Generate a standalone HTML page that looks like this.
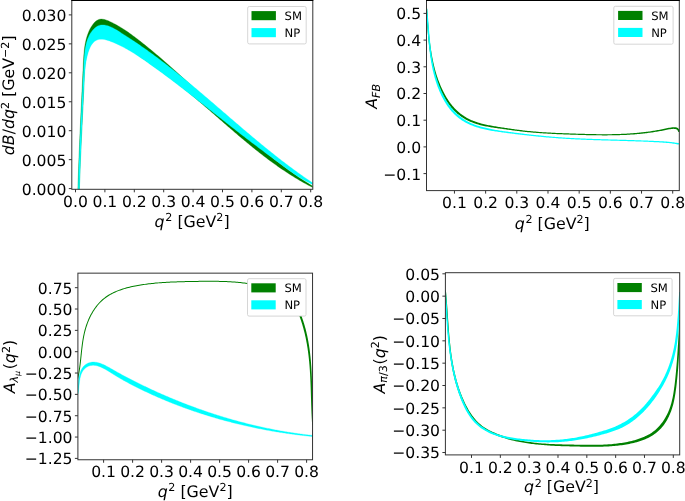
<!DOCTYPE html>
<html><head><meta charset="utf-8"><title>plots</title>
<style>html,body{margin:0;padding:0;background:#fff}svg{display:block;will-change:transform}</style></head>
<body>
<svg width="685" height="501" viewBox="0 0 685 501" font-family='"DejaVu Sans","Liberation Sans",sans-serif' fill="#000" text-rendering="geometricPrecision">
<rect width="685" height="501" fill="#fff"/>
<defs>
<clipPath id="c1"><rect x="71.80" y="0.50" width="241.00" height="188.80"/></clipPath>
<clipPath id="c2"><rect x="426.50" y="0.50" width="252.80" height="190.10"/></clipPath>
<clipPath id="c3"><rect x="77.90" y="273.15" width="234.65" height="186.60"/></clipPath>
<clipPath id="c4"><rect x="445.40" y="272.70" width="234.30" height="182.20"/></clipPath>
</defs>
<path d="M77.88 189.61 L77.94 187.68 L78.00 185.76 L78.06 183.84 L78.12 181.93 L78.19 180.02 L78.25 178.11 L78.31 176.21 L78.38 174.31 L78.44 172.41 L78.51 170.52 L78.58 168.63 L78.65 166.75 L78.72 164.87 L78.79 162.99 L78.86 161.11 L78.93 159.23 L79.00 157.36 L79.08 155.49 L79.15 153.62 L79.23 151.76 L79.30 149.90 L79.38 148.03 L79.46 146.17 L79.54 144.31 L79.61 142.46 L79.69 140.60 L79.77 138.74 L79.85 136.89 L79.93 135.04 L80.02 133.18 L80.10 131.33 L80.18 129.48 L80.26 127.63 L80.35 125.77 L80.43 123.92 L80.52 122.07 L80.60 120.22 L80.69 118.37 L80.77 116.51 L80.86 114.66 L80.95 112.80 L81.03 110.95 L81.12 109.09 L81.21 107.23 L81.30 105.37 L81.39 103.51 L81.48 101.65 L81.57 99.79 L81.66 97.92 L81.75 96.05 L81.84 94.18 L81.93 92.31 L82.02 90.43 L82.11 88.56 L82.20 86.68 L82.30 84.79 L82.39 82.91 L82.48 81.02 L82.57 79.13 L82.66 77.23 L82.76 75.33 L82.85 73.43 L82.94 71.52 L83.04 69.61 L83.13 67.69 L83.22 65.77 L83.31 63.85 L83.41 61.92 L83.51 60.00 L83.63 58.07 L83.75 56.14 L83.90 54.22 L84.07 52.31 L84.26 50.40 L84.48 48.51 L84.74 46.62 L85.04 44.75 L85.38 42.90 L85.77 41.06 L86.20 39.24 L86.69 37.45 L87.24 35.67 L87.85 33.93 L88.53 32.21 L89.27 30.51 L90.10 28.85 L91.00 27.23 L91.98 25.65 L93.04 24.15 L94.19 22.78 L95.43 21.56 L96.75 20.55 L98.17 19.78 L99.68 19.28 L101.28 19.10 L102.97 19.21 L104.72 19.58 L106.51 20.14 L108.31 20.85 L110.12 21.66 L111.90 22.51 L113.65 23.39 L115.37 24.30 L117.07 25.23 L118.74 26.19 L120.39 27.17 L122.02 28.17 L123.63 29.19 L125.22 30.23 L126.79 31.29 L128.34 32.36 L129.88 33.45 L131.41 34.55 L132.92 35.67 L134.43 36.79 L135.92 37.92 L137.41 39.07 L138.89 40.22 L140.37 41.37 L141.84 42.53 L143.31 43.69 L144.78 44.86 L146.24 46.04 L147.70 47.22 L149.15 48.40 L150.60 49.59 L152.05 50.79 L153.49 51.98 L154.93 53.19 L156.37 54.39 L157.80 55.60 L159.23 56.82 L160.66 58.03 L162.08 59.25 L163.50 60.48 L164.92 61.71 L166.33 62.94 L167.74 64.17 L169.15 65.41 L170.56 66.65 L171.97 67.90 L173.37 69.15 L174.77 70.39 L176.17 71.65 L177.56 72.90 L178.96 74.16 L180.35 75.42 L181.74 76.68 L183.13 77.94 L184.52 79.21 L185.90 80.48 L187.29 81.74 L188.67 83.01 L190.06 84.29 L191.44 85.56 L192.82 86.83 L194.19 88.11 L195.57 89.39 L196.95 90.66 L198.33 91.94 L199.70 93.22 L201.08 94.50 L202.45 95.78 L203.83 97.06 L205.20 98.34 L206.58 99.62 L207.95 100.91 L209.33 102.19 L210.70 103.47 L212.08 104.75 L213.45 106.03 L214.83 107.31 L216.20 108.59 L217.58 109.87 L218.95 111.14 L220.33 112.42 L221.71 113.69 L223.09 114.97 L224.47 116.24 L225.85 117.51 L227.24 118.78 L228.62 120.05 L230.00 121.32 L231.39 122.58 L232.78 123.85 L234.17 125.11 L235.56 126.37 L236.96 127.62 L238.35 128.88 L239.75 130.13 L241.15 131.38 L242.55 132.62 L243.95 133.87 L245.36 135.11 L246.77 136.34 L248.18 137.58 L249.59 138.81 L251.01 140.04 L252.43 141.26 L253.85 142.48 L255.28 143.70 L256.70 144.91 L258.14 146.12 L259.57 147.33 L261.01 148.53 L262.45 149.72 L263.89 150.92 L265.34 152.10 L266.79 153.29 L268.25 154.47 L269.71 155.64 L271.17 156.81 L272.64 157.97 L274.11 159.13 L275.59 160.28 L277.07 161.43 L278.55 162.57 L280.04 163.71 L281.53 164.84 L283.03 165.97 L284.54 167.09 L286.04 168.20 L287.56 169.31 L289.07 170.41 L290.60 171.50 L292.12 172.59 L293.66 173.67 L295.20 174.75 L296.74 175.82 L298.29 176.88 L299.85 177.93 L301.41 178.98 L302.97 180.02 L304.55 181.05 L306.12 182.07 L307.71 183.09 L309.30 184.10 L310.90 185.10 L312.50 186.10 L312.55 187.40 L310.97 186.59 L309.40 185.77 L307.84 184.94 L306.28 184.11 L304.73 183.26 L303.19 182.40 L301.65 181.53 L300.12 180.65 L298.59 179.76 L297.08 178.86 L295.56 177.95 L294.06 177.04 L292.56 176.11 L291.07 175.17 L289.58 174.23 L288.10 173.28 L286.62 172.32 L285.15 171.35 L283.69 170.37 L282.23 169.39 L280.77 168.39 L279.32 167.39 L277.88 166.39 L276.44 165.37 L275.00 164.35 L273.57 163.32 L272.15 162.29 L270.73 161.25 L269.31 160.20 L267.90 159.14 L266.49 158.08 L265.08 157.02 L263.68 155.95 L262.28 154.87 L260.89 153.79 L259.50 152.70 L258.11 151.61 L256.73 150.51 L255.35 149.41 L253.97 148.30 L252.60 147.19 L251.23 146.07 L249.86 144.95 L248.49 143.83 L247.13 142.70 L245.77 141.57 L244.41 140.44 L243.05 139.30 L241.70 138.17 L240.34 137.02 L238.99 135.88 L237.64 134.73 L236.30 133.58 L234.95 132.43 L233.60 131.28 L232.26 130.12 L230.92 128.96 L229.58 127.80 L228.24 126.64 L226.90 125.48 L225.56 124.32 L224.22 123.16 L222.88 121.99 L221.55 120.83 L220.21 119.67 L218.87 118.50 L217.54 117.34 L216.20 116.17 L214.86 115.01 L213.52 113.85 L212.19 112.69 L210.85 111.52 L209.51 110.36 L208.17 109.20 L206.83 108.05 L205.49 106.89 L204.15 105.74 L202.80 104.58 L201.46 103.43 L200.11 102.29 L198.76 101.14 L197.41 100.00 L196.06 98.86 L194.71 97.72 L193.36 96.59 L192.00 95.45 L190.64 94.33 L189.28 93.20 L187.91 92.08 L186.55 90.97 L185.18 89.85 L183.81 88.75 L182.43 87.64 L181.06 86.54 L179.67 85.45 L178.29 84.36 L176.90 83.28 L175.51 82.20 L174.12 81.13 L172.72 80.06 L171.32 79.00 L169.92 77.94 L168.51 76.88 L167.10 75.84 L165.68 74.79 L164.27 73.75 L162.85 72.71 L161.42 71.68 L160.00 70.65 L158.57 69.62 L157.14 68.59 L155.71 67.57 L154.27 66.54 L152.83 65.52 L151.39 64.50 L149.95 63.48 L148.50 62.46 L147.06 61.44 L145.61 60.42 L144.16 59.40 L142.70 58.38 L141.25 57.36 L139.79 56.34 L138.34 55.31 L136.88 54.29 L135.42 53.26 L133.96 52.23 L132.50 51.20 L131.03 50.16 L129.57 49.12 L128.10 48.08 L126.64 47.03 L125.17 45.98 L123.70 44.93 L122.21 43.89 L120.72 42.87 L119.21 41.88 L117.67 40.92 L116.10 39.99 L114.51 39.12 L112.87 38.30 L111.20 37.55 L109.48 36.87 L107.73 36.28 L105.97 35.82 L104.24 35.52 L102.55 35.41 L100.92 35.51 L99.38 35.86 L97.94 36.45 L96.59 37.26 L95.33 38.26 L94.16 39.42 L93.08 40.72 L92.07 42.14 L91.15 43.65 L90.31 45.21 L89.54 46.81 L88.84 48.44 L88.21 50.09 L87.65 51.75 L87.14 53.43 L86.69 55.13 L86.29 56.85 L85.94 58.58 L85.64 60.32 L85.37 62.08 L85.15 63.84 L84.95 65.62 L84.79 67.40 L84.65 69.19 L84.53 70.98 L84.43 72.77 L84.34 74.57 L84.27 76.37 L84.19 78.17 L84.13 79.97 L84.06 81.77 L83.99 83.56 L83.91 85.35 L83.84 87.14 L83.77 88.92 L83.69 90.70 L83.61 92.48 L83.54 94.26 L83.46 96.03 L83.38 97.81 L83.29 99.58 L83.21 101.35 L83.13 103.12 L83.05 104.88 L82.96 106.65 L82.88 108.41 L82.79 110.17 L82.70 111.93 L82.62 113.69 L82.53 115.45 L82.44 117.21 L82.36 118.96 L82.27 120.72 L82.18 122.47 L82.09 124.23 L82.00 125.98 L81.92 127.73 L81.83 129.48 L81.74 131.24 L81.65 132.99 L81.57 134.74 L81.48 136.49 L81.39 138.25 L81.31 140.00 L81.22 141.75 L81.14 143.50 L81.05 145.26 L80.97 147.01 L80.89 148.77 L80.81 150.52 L80.73 152.28 L80.65 154.04 L80.57 155.80 L80.49 157.56 L80.42 159.32 L80.34 161.08 L80.27 162.85 L80.20 164.61 L80.13 166.38 L80.06 168.15 L79.99 169.92 L79.92 171.69 L79.86 173.47 L79.80 175.24 L79.74 177.02 L79.68 178.81 L79.62 180.59 L79.57 182.38 L79.51 184.17 L79.46 185.96 L79.41 187.75 L79.37 189.55Z" fill="#008000" stroke="#008000" stroke-width="0.3" clip-path="url(#c1)"/>
<path d="M78.09 189.62 L78.14 187.74 L78.20 185.85 L78.25 183.98 L78.31 182.10 L78.37 180.24 L78.43 178.37 L78.49 176.51 L78.55 174.66 L78.61 172.81 L78.68 170.96 L78.74 169.12 L78.81 167.28 L78.87 165.44 L78.94 163.61 L79.01 161.78 L79.08 159.96 L79.15 158.13 L79.23 156.31 L79.30 154.49 L79.37 152.68 L79.45 150.86 L79.53 149.05 L79.60 147.24 L79.68 145.43 L79.76 143.62 L79.84 141.82 L79.92 140.01 L80.00 138.21 L80.08 136.41 L80.17 134.61 L80.25 132.81 L80.33 131.01 L80.42 129.21 L80.51 127.41 L80.59 125.61 L80.68 123.81 L80.77 122.01 L80.86 120.20 L80.95 118.40 L81.04 116.60 L81.13 114.80 L81.22 112.99 L81.31 111.19 L81.40 109.38 L81.50 107.57 L81.59 105.76 L81.68 103.95 L81.78 102.13 L81.87 100.32 L81.97 98.50 L82.06 96.68 L82.16 94.85 L82.26 93.03 L82.35 91.20 L82.45 89.36 L82.55 87.53 L82.65 85.69 L82.75 83.84 L82.85 82.00 L82.95 80.14 L83.05 78.29 L83.15 76.43 L83.25 74.57 L83.35 72.70 L83.45 70.82 L83.55 68.95 L83.65 67.06 L83.75 65.18 L83.85 63.28 L83.96 61.39 L84.07 59.49 L84.20 57.60 L84.36 55.72 L84.53 53.84 L84.74 51.98 L84.98 50.14 L85.26 48.31 L85.58 46.51 L85.96 44.74 L86.39 42.99 L86.88 41.28 L87.44 39.61 L88.07 37.97 L88.77 36.38 L89.55 34.83 L90.42 33.33 L91.39 31.89 L92.44 30.50 L93.60 29.18 L94.86 27.97 L96.21 26.90 L97.67 26.03 L99.22 25.38 L100.88 25.01 L102.62 24.91 L104.41 25.05 L106.19 25.38 L107.94 25.86 L109.67 26.47 L111.37 27.20 L113.05 28.02 L114.71 28.92 L116.35 29.87 L117.98 30.86 L119.59 31.87 L121.19 32.88 L122.78 33.90 L124.36 34.91 L125.94 35.92 L127.50 36.94 L129.06 37.95 L130.60 38.97 L132.14 39.99 L133.67 41.01 L135.20 42.03 L136.72 43.06 L138.23 44.09 L139.74 45.12 L141.24 46.16 L142.73 47.20 L144.23 48.24 L145.71 49.29 L147.20 50.34 L148.67 51.40 L150.15 52.47 L151.62 53.53 L153.09 54.61 L154.56 55.69 L156.02 56.77 L157.48 57.86 L158.94 58.95 L160.39 60.05 L161.84 61.15 L163.29 62.25 L164.73 63.36 L166.18 64.48 L167.62 65.59 L169.05 66.71 L170.49 67.84 L171.92 68.97 L173.35 70.10 L174.78 71.24 L176.20 72.37 L177.62 73.52 L179.05 74.66 L180.46 75.81 L181.88 76.96 L183.30 78.12 L184.71 79.27 L186.12 80.43 L187.53 81.60 L188.94 82.76 L190.34 83.93 L191.75 85.10 L193.15 86.27 L194.55 87.45 L195.95 88.62 L197.35 89.80 L198.75 90.98 L200.15 92.16 L201.54 93.35 L202.94 94.53 L204.33 95.72 L205.73 96.90 L207.12 98.09 L208.51 99.28 L209.90 100.47 L211.29 101.67 L212.68 102.86 L214.07 104.05 L215.46 105.25 L216.85 106.44 L218.24 107.64 L219.62 108.83 L221.01 110.03 L222.40 111.23 L223.79 112.42 L225.18 113.62 L226.56 114.82 L227.95 116.01 L229.34 117.21 L230.73 118.40 L232.12 119.60 L233.51 120.79 L234.90 121.99 L236.29 123.18 L237.68 124.37 L239.07 125.57 L240.46 126.76 L241.86 127.94 L243.25 129.13 L244.65 130.32 L246.04 131.50 L247.44 132.69 L248.84 133.87 L250.24 135.05 L251.64 136.23 L253.05 137.40 L254.45 138.58 L255.85 139.75 L257.26 140.92 L258.67 142.09 L260.08 143.26 L261.49 144.42 L262.91 145.58 L264.32 146.74 L265.74 147.89 L267.16 149.04 L268.58 150.19 L270.01 151.34 L271.43 152.48 L272.86 153.62 L274.29 154.76 L275.73 155.89 L277.16 157.02 L278.60 158.14 L280.04 159.27 L281.49 160.38 L282.93 161.50 L284.38 162.61 L285.84 163.71 L287.29 164.82 L288.75 165.91 L290.21 167.01 L291.68 168.09 L293.14 169.18 L294.61 170.26 L296.09 171.33 L297.57 172.40 L299.05 173.46 L300.53 174.52 L302.02 175.58 L303.51 176.63 L305.01 177.67 L306.51 178.71 L308.01 179.74 L309.52 180.77 L311.03 181.79 L312.55 182.80 L312.87 184.62 L311.27 183.88 L309.68 183.11 L308.11 182.32 L306.56 181.50 L305.03 180.66 L303.52 179.80 L302.01 178.92 L300.53 178.01 L299.05 177.09 L297.59 176.16 L296.14 175.20 L294.70 174.24 L293.26 173.26 L291.84 172.26 L290.42 171.26 L289.01 170.25 L287.60 169.24 L286.20 168.21 L284.79 167.18 L283.40 166.15 L282.00 165.12 L280.60 164.08 L279.20 163.05 L277.80 162.01 L276.40 160.97 L275.00 159.93 L273.60 158.89 L272.21 157.85 L270.81 156.81 L269.41 155.77 L268.01 154.73 L266.61 153.68 L265.22 152.64 L263.82 151.59 L262.42 150.55 L261.03 149.50 L259.63 148.45 L258.24 147.40 L256.85 146.35 L255.46 145.29 L254.07 144.24 L252.68 143.19 L251.29 142.13 L249.90 141.07 L248.51 140.01 L247.13 138.95 L245.74 137.89 L244.36 136.83 L242.98 135.77 L241.60 134.70 L240.22 133.63 L238.85 132.57 L237.47 131.50 L236.10 130.43 L234.72 129.36 L233.35 128.29 L231.98 127.21 L230.61 126.14 L229.24 125.07 L227.87 123.99 L226.51 122.92 L225.14 121.84 L223.77 120.77 L222.41 119.69 L221.04 118.61 L219.68 117.54 L218.31 116.46 L216.95 115.38 L215.58 114.30 L214.22 113.23 L212.85 112.15 L211.49 111.07 L210.13 109.99 L208.76 108.92 L207.40 107.84 L206.03 106.76 L204.67 105.69 L203.30 104.61 L201.94 103.53 L200.57 102.46 L199.21 101.39 L197.84 100.31 L196.47 99.24 L195.11 98.17 L193.74 97.10 L192.37 96.03 L191.00 94.96 L189.62 93.89 L188.25 92.82 L186.88 91.75 L185.50 90.69 L184.13 89.63 L182.75 88.56 L181.37 87.50 L179.99 86.44 L178.61 85.39 L177.23 84.33 L175.85 83.28 L174.46 82.22 L173.07 81.17 L171.68 80.12 L170.29 79.08 L168.90 78.03 L167.51 76.99 L166.11 75.95 L164.71 74.91 L163.31 73.87 L161.91 72.83 L160.50 71.80 L159.09 70.77 L157.68 69.74 L156.27 68.72 L154.86 67.70 L153.44 66.68 L152.02 65.66 L150.60 64.65 L149.17 63.63 L147.74 62.62 L146.31 61.62 L144.88 60.62 L143.44 59.62 L142.00 58.63 L140.55 57.65 L139.10 56.67 L137.64 55.70 L136.17 54.75 L134.69 53.80 L133.21 52.87 L131.72 51.95 L130.22 51.04 L128.71 50.15 L127.19 49.28 L125.66 48.42 L124.11 47.59 L122.56 46.77 L120.99 45.97 L119.41 45.19 L117.81 44.44 L116.20 43.70 L114.58 43.00 L112.93 42.32 L111.28 41.66 L109.60 41.03 L107.92 40.46 L106.25 39.95 L104.58 39.56 L102.95 39.29 L101.35 39.19 L99.81 39.27 L98.33 39.56 L96.93 40.05 L95.60 40.73 L94.37 41.61 L93.23 42.67 L92.20 43.91 L91.27 45.30 L90.44 46.81 L89.68 48.43 L89.01 50.12 L88.40 51.86 L87.85 53.62 L87.37 55.39 L86.93 57.15 L86.54 58.91 L86.20 60.67 L85.89 62.43 L85.63 64.19 L85.39 65.95 L85.19 67.70 L85.02 69.46 L84.86 71.21 L84.73 72.96 L84.61 74.71 L84.50 76.46 L84.40 78.21 L84.31 79.96 L84.22 81.71 L84.12 83.46 L84.03 85.20 L83.94 86.94 L83.85 88.69 L83.76 90.43 L83.67 92.17 L83.58 93.91 L83.49 95.65 L83.41 97.39 L83.32 99.13 L83.23 100.87 L83.15 102.60 L83.06 104.34 L82.98 106.07 L82.89 107.81 L82.81 109.54 L82.73 111.28 L82.65 113.01 L82.56 114.74 L82.48 116.48 L82.40 118.21 L82.32 119.94 L82.24 121.68 L82.16 123.41 L82.08 125.14 L82.00 126.87 L81.92 128.61 L81.85 130.34 L81.77 132.07 L81.69 133.80 L81.62 135.53 L81.54 137.27 L81.47 139.00 L81.39 140.73 L81.32 142.47 L81.24 144.20 L81.17 145.93 L81.09 147.67 L81.02 149.40 L80.95 151.14 L80.88 152.88 L80.80 154.61 L80.73 156.35 L80.66 158.09 L80.59 159.83 L80.52 161.57 L80.45 163.31 L80.38 165.05 L80.31 166.79 L80.24 168.53 L80.17 170.28 L80.11 172.02 L80.04 173.77 L79.97 175.51 L79.90 177.26 L79.83 179.01 L79.77 180.76 L79.70 182.51 L79.63 184.26 L79.57 186.02 L79.50 187.77 L79.44 189.53Z" fill="#00ffff" stroke="#00ffff" stroke-width="0.3" clip-path="url(#c1)"/>
<rect x="71.80" y="0.50" width="241.00" height="188.80" fill="none" stroke="#333333" stroke-width="1.00"/>
<line x1="75.50" y1="189.30" x2="75.50" y2="192.30" stroke="#333333" stroke-width="1.00"/>
<text x="75.50" y="206.90" text-anchor="middle" font-size="15.6">0.0</text>
<line x1="104.90" y1="189.30" x2="104.90" y2="192.30" stroke="#333333" stroke-width="1.00"/>
<text x="104.90" y="206.90" text-anchor="middle" font-size="15.6">0.1</text>
<line x1="134.30" y1="189.30" x2="134.30" y2="192.30" stroke="#333333" stroke-width="1.00"/>
<text x="134.30" y="206.90" text-anchor="middle" font-size="15.6">0.2</text>
<line x1="163.70" y1="189.30" x2="163.70" y2="192.30" stroke="#333333" stroke-width="1.00"/>
<text x="163.70" y="206.90" text-anchor="middle" font-size="15.6">0.3</text>
<line x1="193.10" y1="189.30" x2="193.10" y2="192.30" stroke="#333333" stroke-width="1.00"/>
<text x="193.10" y="206.90" text-anchor="middle" font-size="15.6">0.4</text>
<line x1="222.50" y1="189.30" x2="222.50" y2="192.30" stroke="#333333" stroke-width="1.00"/>
<text x="222.50" y="206.90" text-anchor="middle" font-size="15.6">0.5</text>
<line x1="251.90" y1="189.30" x2="251.90" y2="192.30" stroke="#333333" stroke-width="1.00"/>
<text x="251.90" y="206.90" text-anchor="middle" font-size="15.6">0.6</text>
<line x1="281.30" y1="189.30" x2="281.30" y2="192.30" stroke="#333333" stroke-width="1.00"/>
<text x="281.30" y="206.90" text-anchor="middle" font-size="15.6">0.7</text>
<line x1="310.70" y1="189.30" x2="310.70" y2="192.30" stroke="#333333" stroke-width="1.00"/>
<text x="310.70" y="206.90" text-anchor="middle" font-size="15.6">0.8</text>
<line x1="68.80" y1="188.60" x2="71.80" y2="188.60" stroke="#333333" stroke-width="1.00"/>
<text x="66.40" y="194.50" text-anchor="end" font-size="15.6">0.000</text>
<line x1="68.80" y1="159.65" x2="71.80" y2="159.65" stroke="#333333" stroke-width="1.00"/>
<text x="66.40" y="165.55" text-anchor="end" font-size="15.6">0.005</text>
<line x1="68.80" y1="130.70" x2="71.80" y2="130.70" stroke="#333333" stroke-width="1.00"/>
<text x="66.40" y="136.60" text-anchor="end" font-size="15.6">0.010</text>
<line x1="68.80" y1="101.75" x2="71.80" y2="101.75" stroke="#333333" stroke-width="1.00"/>
<text x="66.40" y="107.65" text-anchor="end" font-size="15.6">0.015</text>
<line x1="68.80" y1="72.80" x2="71.80" y2="72.80" stroke="#333333" stroke-width="1.00"/>
<text x="66.40" y="78.70" text-anchor="end" font-size="15.6">0.020</text>
<line x1="68.80" y1="43.85" x2="71.80" y2="43.85" stroke="#333333" stroke-width="1.00"/>
<text x="66.40" y="49.75" text-anchor="end" font-size="15.6">0.025</text>
<line x1="68.80" y1="14.90" x2="71.80" y2="14.90" stroke="#333333" stroke-width="1.00"/>
<text x="66.40" y="20.80" text-anchor="end" font-size="15.6">0.030</text>
<text x="192.10" y="227.00" text-anchor="middle" font-size="15.8"><tspan font-style="italic">q</tspan><tspan font-size="11.1" dy="-5.8" dx="0.7">2</tspan><tspan dy="5.8"> [GeV</tspan><tspan font-size="11.1" dy="-5.8">2</tspan><tspan dy="5.8">]</tspan></text>
<text transform="translate(14.4,95.3) rotate(-90)" text-anchor="middle" font-size="15.8"><tspan font-style="italic">dB</tspan>/<tspan font-style="italic">dq</tspan><tspan font-size="11.1" dy="-5.8">2</tspan><tspan dy="5.8"> [GeV</tspan><tspan font-size="11.1" dy="-5.8">−2</tspan><tspan dy="5.8">]</tspan></text>
<line x1="71.30" y1="0.5" x2="313.30" y2="0.5" stroke="#000" stroke-width="1"/>
<rect x="247.70" y="6.50" width="58.50" height="37.40" rx="1.6" fill="#fff" stroke="#cccccc" stroke-width="0.8"/>
<rect x="251.50" y="11.10" width="24.4" height="9.1" fill="#008000"/>
<rect x="251.50" y="28.10" width="24.4" height="9.1" fill="#00ffff"/>
<text x="284.60" y="20.10" font-size="11.6">SM</text>
<text x="284.60" y="37.10" font-size="11.6">NP</text>
<path d="M426.05 8.85 L426.13 9.96 L426.20 11.08 L426.28 12.20 L426.35 13.31 L426.43 14.43 L426.50 15.56 L426.58 16.68 L426.65 17.81 L426.73 18.93 L426.80 20.06 L426.88 21.19 L426.96 22.32 L427.04 23.45 L427.12 24.58 L427.20 25.71 L427.29 26.84 L427.38 27.98 L427.47 29.11 L427.56 30.24 L427.65 31.38 L427.75 32.51 L427.85 33.65 L427.95 34.78 L428.05 35.92 L428.16 37.05 L428.27 38.19 L428.38 39.32 L428.50 40.46 L428.62 41.59 L428.74 42.73 L428.87 43.86 L429.00 45.00 L429.14 46.13 L429.28 47.26 L429.43 48.39 L429.58 49.52 L429.74 50.65 L429.90 51.78 L430.07 52.91 L430.25 54.03 L430.43 55.16 L430.62 56.28 L430.81 57.41 L431.01 58.53 L431.22 59.64 L431.44 60.76 L431.66 61.88 L431.89 62.99 L432.13 64.10 L432.38 65.21 L432.63 66.32 L432.90 67.43 L433.17 68.53 L433.45 69.63 L433.73 70.73 L434.03 71.83 L434.33 72.92 L434.65 74.01 L434.97 75.10 L435.29 76.19 L435.63 77.27 L435.98 78.35 L436.33 79.43 L436.70 80.51 L437.07 81.58 L437.46 82.65 L437.86 83.72 L438.26 84.79 L438.68 85.85 L439.11 86.90 L439.55 87.96 L440.01 89.00 L440.47 90.05 L440.95 91.09 L441.44 92.13 L441.94 93.16 L442.46 94.19 L442.99 95.21 L443.53 96.22 L444.09 97.23 L444.66 98.22 L445.25 99.21 L445.85 100.20 L446.47 101.17 L447.10 102.13 L447.75 103.08 L448.42 104.01 L449.11 104.94 L449.81 105.85 L450.53 106.75 L451.27 107.63 L452.02 108.50 L452.80 109.36 L453.59 110.20 L454.40 111.02 L455.23 111.83 L456.08 112.62 L456.95 113.39 L457.84 114.14 L458.75 114.87 L459.67 115.58 L460.62 116.27 L461.58 116.94 L462.56 117.58 L463.55 118.21 L464.55 118.81 L465.57 119.39 L466.59 119.95 L467.63 120.48 L468.67 120.99 L469.72 121.47 L470.78 121.93 L471.85 122.37 L472.92 122.79 L473.99 123.18 L475.07 123.56 L476.16 123.91 L477.25 124.25 L478.34 124.57 L479.44 124.88 L480.54 125.16 L481.65 125.44 L482.76 125.70 L483.87 125.94 L484.98 126.18 L486.10 126.40 L487.22 126.61 L488.34 126.82 L489.46 127.01 L490.58 127.20 L491.71 127.38 L492.83 127.55 L493.96 127.72 L495.08 127.89 L496.21 128.06 L497.33 128.22 L498.46 128.38 L499.58 128.54 L500.71 128.70 L501.83 128.87 L502.96 129.03 L504.08 129.18 L505.21 129.34 L506.33 129.50 L507.45 129.65 L508.58 129.81 L509.70 129.96 L510.83 130.11 L511.95 130.26 L513.08 130.41 L514.20 130.55 L515.33 130.69 L516.45 130.84 L517.58 130.98 L518.70 131.12 L519.83 131.25 L520.96 131.39 L522.08 131.52 L523.21 131.64 L524.34 131.77 L525.46 131.89 L526.59 132.01 L527.72 132.13 L528.85 132.24 L529.97 132.35 L531.10 132.45 L532.23 132.55 L533.36 132.65 L534.49 132.75 L535.62 132.84 L536.75 132.93 L537.88 133.01 L539.01 133.10 L540.14 133.18 L541.27 133.26 L542.40 133.33 L543.53 133.40 L544.67 133.48 L545.80 133.54 L546.93 133.61 L548.06 133.68 L549.19 133.74 L550.32 133.80 L551.46 133.86 L552.59 133.92 L553.72 133.97 L554.85 134.02 L555.99 134.08 L557.12 134.13 L558.25 134.18 L559.38 134.22 L560.52 134.27 L561.65 134.31 L562.78 134.36 L563.92 134.40 L565.05 134.44 L566.18 134.48 L567.32 134.52 L568.45 134.56 L569.58 134.60 L570.71 134.64 L571.85 134.68 L572.98 134.72 L574.11 134.75 L575.25 134.79 L576.38 134.83 L577.51 134.86 L578.64 134.90 L579.78 134.93 L580.91 134.97 L582.04 135.00 L583.18 135.03 L584.31 135.07 L585.44 135.10 L586.57 135.13 L587.71 135.15 L588.84 135.18 L589.97 135.21 L591.11 135.23 L592.24 135.25 L593.37 135.27 L594.51 135.29 L595.64 135.31 L596.77 135.33 L597.90 135.34 L599.04 135.35 L600.17 135.36 L601.30 135.37 L602.44 135.38 L603.57 135.38 L604.70 135.38 L605.83 135.38 L606.97 135.38 L608.10 135.37 L609.23 135.36 L610.36 135.35 L611.50 135.34 L612.63 135.32 L613.76 135.30 L614.89 135.28 L616.03 135.25 L617.16 135.22 L618.29 135.19 L619.42 135.16 L620.56 135.12 L621.69 135.08 L622.82 135.04 L623.95 134.99 L625.08 134.94 L626.22 134.88 L627.35 134.82 L628.48 134.76 L629.61 134.69 L630.74 134.62 L631.87 134.54 L633.01 134.46 L634.14 134.38 L635.27 134.29 L636.40 134.20 L637.53 134.10 L638.66 133.99 L639.79 133.89 L640.92 133.78 L642.05 133.66 L643.18 133.54 L644.32 133.41 L645.45 133.28 L646.58 133.15 L647.71 133.01 L648.84 132.86 L649.97 132.71 L651.10 132.55 L652.23 132.39 L653.36 132.22 L654.49 132.05 L655.62 131.87 L656.75 131.69 L657.88 131.50 L659.01 131.30 L660.14 131.10 L661.27 130.90 L662.40 130.68 L663.53 130.46 L664.66 130.24 L665.78 130.01 L666.90 129.78 L668.02 129.57 L669.12 129.37 L670.22 129.19 L671.31 129.04 L672.39 128.93 L673.44 128.87 L674.42 128.89 L675.32 129.00 L676.10 129.23 L676.77 129.60 L677.34 130.12 L677.82 130.87 L678.21 131.92 L680.03 131.43 L679.49 130.02 L678.73 128.90 L677.79 128.09 L676.73 127.57 L675.63 127.28 L674.49 127.18 L673.36 127.21 L672.22 127.32 L671.10 127.47 L669.97 127.65 L668.85 127.85 L667.72 128.07 L666.60 128.30 L665.47 128.54 L664.35 128.78 L663.23 129.02 L662.11 129.25 L660.99 129.47 L659.87 129.69 L658.75 129.90 L657.63 130.11 L656.51 130.31 L655.39 130.50 L654.27 130.69 L653.15 130.87 L652.03 131.04 L650.90 131.21 L649.78 131.38 L648.66 131.54 L647.54 131.69 L646.41 131.83 L645.29 131.98 L644.16 132.11 L643.04 132.24 L641.92 132.37 L640.79 132.49 L639.67 132.61 L638.54 132.72 L637.42 132.82 L636.29 132.92 L635.16 133.02 L634.04 133.11 L632.91 133.20 L631.79 133.28 L630.66 133.36 L629.53 133.44 L628.41 133.51 L627.28 133.58 L626.15 133.64 L625.02 133.70 L623.90 133.76 L622.77 133.81 L621.64 133.86 L620.51 133.90 L619.38 133.94 L618.25 133.98 L617.13 134.01 L616.00 134.05 L614.87 134.07 L613.74 134.10 L612.61 134.12 L611.48 134.14 L610.35 134.15 L609.22 134.16 L608.09 134.17 L606.96 134.18 L605.83 134.18 L604.70 134.18 L603.57 134.18 L602.44 134.18 L601.31 134.17 L600.18 134.16 L599.05 134.15 L597.92 134.14 L596.79 134.13 L595.66 134.11 L594.53 134.09 L593.39 134.07 L592.26 134.05 L591.13 134.03 L590.00 134.01 L588.87 133.98 L587.74 133.95 L586.61 133.93 L585.47 133.90 L584.34 133.87 L583.21 133.84 L582.08 133.80 L580.95 133.77 L579.81 133.74 L578.68 133.70 L577.55 133.66 L576.42 133.63 L575.28 133.59 L574.15 133.56 L573.02 133.52 L571.89 133.48 L570.75 133.44 L569.62 133.40 L568.49 133.36 L567.36 133.33 L566.23 133.28 L565.09 133.24 L563.96 133.20 L562.83 133.16 L561.70 133.11 L560.57 133.07 L559.43 133.02 L558.30 132.98 L557.17 132.93 L556.04 132.88 L554.91 132.83 L553.78 132.77 L552.65 132.72 L551.52 132.66 L550.39 132.60 L549.26 132.54 L548.13 132.48 L547.00 132.41 L545.87 132.34 L544.74 132.27 L543.61 132.20 L542.48 132.13 L541.36 132.05 L540.23 131.97 L539.10 131.88 L537.97 131.80 L536.85 131.71 L535.72 131.61 L534.59 131.52 L533.47 131.42 L532.34 131.32 L531.22 131.21 L530.09 131.11 L528.97 130.99 L527.85 130.88 L526.72 130.76 L525.60 130.64 L524.48 130.51 L523.35 130.38 L522.23 130.25 L521.11 130.12 L519.98 129.98 L518.86 129.84 L517.74 129.70 L516.62 129.55 L515.50 129.40 L514.38 129.25 L513.25 129.09 L512.13 128.94 L511.01 128.78 L509.89 128.61 L508.77 128.45 L507.65 128.28 L506.53 128.11 L505.41 127.95 L504.29 127.77 L503.17 127.60 L502.05 127.43 L500.93 127.25 L499.81 127.08 L498.68 126.90 L497.56 126.72 L496.44 126.54 L495.32 126.35 L494.21 126.16 L493.09 125.97 L491.98 125.78 L490.87 125.57 L489.76 125.37 L488.65 125.15 L487.55 124.93 L486.45 124.70 L485.35 124.46 L484.26 124.21 L483.17 123.95 L482.08 123.68 L481.01 123.39 L479.93 123.09 L478.86 122.78 L477.80 122.46 L476.74 122.11 L475.69 121.75 L474.65 121.37 L473.61 120.98 L472.58 120.56 L471.56 120.13 L470.54 119.67 L469.54 119.19 L468.54 118.69 L467.54 118.17 L466.56 117.63 L465.59 117.06 L464.63 116.47 L463.68 115.86 L462.75 115.24 L461.83 114.59 L460.92 113.92 L460.04 113.23 L459.17 112.53 L458.32 111.80 L457.49 111.06 L456.68 110.31 L455.88 109.53 L455.10 108.74 L454.34 107.93 L453.59 107.11 L452.87 106.27 L452.15 105.42 L451.46 104.55 L450.78 103.67 L450.11 102.78 L449.46 101.88 L448.82 100.96 L448.20 100.03 L447.59 99.10 L446.99 98.15 L446.41 97.19 L445.84 96.23 L445.28 95.25 L444.74 94.27 L444.21 93.28 L443.69 92.28 L443.18 91.28 L442.68 90.27 L442.20 89.25 L441.72 88.23 L441.26 87.21 L440.81 86.18 L440.37 85.15 L439.94 84.12 L439.52 83.08 L439.11 82.03 L438.70 80.99 L438.31 79.94 L437.93 78.88 L437.56 77.82 L437.20 76.76 L436.85 75.70 L436.51 74.63 L436.18 73.56 L435.86 72.48 L435.55 71.40 L435.25 70.32 L434.96 69.24 L434.68 68.15 L434.40 67.06 L434.13 65.97 L433.87 64.87 L433.62 63.77 L433.38 62.67 L433.14 61.57 L432.91 60.47 L432.68 59.36 L432.46 58.25 L432.25 57.14 L432.05 56.03 L431.85 54.92 L431.65 53.80 L431.46 52.69 L431.28 51.57 L431.10 50.45 L430.93 49.33 L430.77 48.21 L430.61 47.08 L430.45 45.96 L430.30 44.83 L430.15 43.71 L430.01 42.58 L429.87 41.45 L429.74 40.32 L429.61 39.19 L429.49 38.06 L429.37 36.93 L429.25 35.80 L429.14 34.67 L429.03 33.54 L428.93 32.41 L428.83 31.28 L428.73 30.14 L428.64 29.01 L428.54 27.88 L428.45 26.75 L428.36 25.62 L428.27 24.49 L428.19 23.36 L428.11 22.23 L428.02 21.11 L427.94 19.98 L427.86 18.85 L427.78 17.73 L427.70 16.60 L427.62 15.48 L427.55 14.36 L427.47 13.24 L427.39 12.12 L427.31 11.00 L427.23 9.89 L427.16 8.77Z" fill="#008000" clip-path="url(#c2)"/>
<path d="M425.91 8.90 L426.01 10.01 L426.12 11.12 L426.22 12.23 L426.31 13.35 L426.41 14.47 L426.50 15.59 L426.59 16.71 L426.67 17.83 L426.76 18.95 L426.85 20.08 L426.93 21.21 L427.02 22.33 L427.10 23.46 L427.18 24.59 L427.27 25.72 L427.35 26.86 L427.43 27.99 L427.52 29.12 L427.60 30.26 L427.69 31.39 L427.78 32.53 L427.87 33.67 L427.96 34.80 L428.05 35.94 L428.14 37.08 L428.24 38.22 L428.34 39.35 L428.45 40.49 L428.55 41.63 L428.66 42.77 L428.77 43.91 L428.89 45.04 L429.01 46.18 L429.13 47.32 L429.26 48.45 L429.39 49.59 L429.53 50.73 L429.67 51.86 L429.82 52.99 L429.97 54.13 L430.12 55.26 L430.29 56.39 L430.45 57.52 L430.63 58.65 L430.81 59.78 L430.99 60.91 L431.18 62.04 L431.38 63.16 L431.58 64.29 L431.79 65.41 L432.01 66.53 L432.24 67.65 L432.47 68.77 L432.71 69.89 L432.96 71.00 L433.22 72.11 L433.49 73.22 L433.76 74.33 L434.05 75.44 L434.35 76.54 L434.65 77.65 L434.97 78.75 L435.29 79.84 L435.63 80.94 L435.98 82.03 L436.33 83.12 L436.70 84.21 L437.08 85.30 L437.47 86.38 L437.87 87.46 L438.29 88.53 L438.72 89.61 L439.16 90.68 L439.61 91.74 L440.07 92.81 L440.55 93.86 L441.04 94.92 L441.55 95.96 L442.06 97.00 L442.60 98.04 L443.14 99.06 L443.70 100.08 L444.27 101.09 L444.86 102.09 L445.47 103.07 L446.09 104.05 L446.72 105.02 L447.38 105.97 L448.04 106.91 L448.73 107.84 L449.43 108.75 L450.14 109.65 L450.88 110.54 L451.62 111.41 L452.39 112.26 L453.17 113.10 L453.97 113.91 L454.79 114.71 L455.62 115.49 L456.47 116.26 L457.34 117.00 L458.23 117.72 L459.13 118.41 L460.05 119.09 L460.99 119.75 L461.93 120.38 L462.90 121.00 L463.87 121.59 L464.86 122.16 L465.86 122.72 L466.87 123.25 L467.89 123.76 L468.92 124.26 L469.96 124.73 L471.01 125.18 L472.07 125.62 L473.14 126.03 L474.21 126.43 L475.29 126.81 L476.38 127.17 L477.48 127.52 L478.58 127.86 L479.69 128.18 L480.80 128.48 L481.92 128.77 L483.04 129.05 L484.17 129.31 L485.30 129.57 L486.43 129.81 L487.57 130.04 L488.70 130.26 L489.84 130.47 L490.98 130.68 L492.13 130.88 L493.27 131.06 L494.41 131.25 L495.55 131.43 L496.69 131.60 L497.83 131.77 L498.97 131.94 L500.11 132.10 L501.24 132.26 L502.38 132.42 L503.51 132.57 L504.65 132.72 L505.78 132.87 L506.91 133.02 L508.04 133.16 L509.17 133.30 L510.30 133.44 L511.43 133.58 L512.56 133.72 L513.69 133.86 L514.81 133.99 L515.94 134.13 L517.07 134.26 L518.20 134.40 L519.32 134.53 L520.45 134.66 L521.58 134.80 L522.70 134.93 L523.83 135.06 L524.96 135.19 L526.08 135.31 L527.21 135.44 L528.34 135.57 L529.47 135.69 L530.59 135.81 L531.72 135.93 L532.85 136.05 L533.98 136.17 L535.10 136.29 L536.23 136.40 L537.36 136.52 L538.49 136.63 L539.61 136.74 L540.74 136.85 L541.87 136.96 L543.00 137.07 L544.13 137.17 L545.26 137.28 L546.38 137.38 L547.51 137.48 L548.64 137.57 L549.77 137.67 L550.90 137.77 L552.03 137.86 L553.16 137.95 L554.29 138.04 L555.42 138.12 L556.55 138.21 L557.68 138.29 L558.82 138.38 L559.95 138.46 L561.08 138.53 L562.21 138.61 L563.34 138.69 L564.48 138.76 L565.61 138.83 L566.74 138.90 L567.88 138.97 L569.01 139.03 L570.14 139.10 L571.28 139.16 L572.41 139.22 L573.54 139.28 L574.68 139.34 L575.81 139.40 L576.95 139.45 L578.08 139.50 L579.22 139.56 L580.35 139.61 L581.49 139.66 L582.62 139.71 L583.76 139.75 L584.90 139.80 L586.03 139.85 L587.17 139.89 L588.30 139.93 L589.44 139.98 L590.58 140.02 L591.71 140.06 L592.85 140.10 L593.99 140.14 L595.12 140.17 L596.26 140.21 L597.40 140.25 L598.53 140.28 L599.67 140.32 L600.81 140.35 L601.94 140.39 L603.08 140.42 L604.22 140.46 L605.35 140.49 L606.49 140.52 L607.63 140.55 L608.77 140.59 L609.90 140.62 L611.04 140.65 L612.18 140.68 L613.31 140.71 L614.45 140.74 L615.59 140.78 L616.72 140.81 L617.86 140.84 L619.00 140.87 L620.13 140.90 L621.27 140.93 L622.41 140.96 L623.54 141.00 L624.68 141.03 L625.82 141.06 L626.95 141.09 L628.09 141.13 L629.22 141.16 L630.36 141.20 L631.50 141.23 L632.63 141.27 L633.77 141.30 L634.90 141.34 L636.04 141.38 L637.17 141.42 L638.31 141.46 L639.44 141.50 L640.58 141.54 L641.71 141.58 L642.85 141.62 L643.98 141.67 L645.11 141.71 L646.25 141.76 L647.38 141.81 L648.51 141.86 L649.65 141.91 L650.78 141.96 L651.91 142.02 L653.04 142.07 L654.17 142.13 L655.31 142.19 L656.44 142.25 L657.57 142.31 L658.70 142.37 L659.83 142.44 L660.96 142.51 L662.09 142.58 L663.21 142.65 L664.34 142.73 L665.46 142.82 L666.59 142.91 L667.71 143.02 L668.83 143.12 L669.95 143.24 L671.07 143.37 L672.18 143.51 L673.30 143.66 L674.41 143.82 L675.52 144.00 L676.63 144.18 L677.73 144.38 L678.84 144.59 L679.11 143.22 L677.99 143.00 L676.86 142.81 L675.74 142.63 L674.61 142.46 L673.48 142.31 L672.35 142.17 L671.22 142.04 L670.09 141.92 L668.96 141.81 L667.83 141.71 L666.70 141.61 L665.56 141.53 L664.43 141.45 L663.30 141.37 L662.17 141.30 L661.03 141.23 L659.90 141.17 L658.77 141.11 L657.63 141.06 L656.50 141.00 L655.37 140.95 L654.23 140.89 L653.10 140.84 L651.97 140.79 L650.83 140.74 L649.70 140.69 L648.57 140.64 L647.43 140.60 L646.30 140.55 L645.16 140.51 L644.03 140.46 L642.89 140.42 L641.76 140.38 L640.62 140.34 L639.49 140.30 L638.35 140.26 L637.21 140.22 L636.08 140.18 L634.94 140.14 L633.81 140.10 L632.67 140.07 L631.53 140.03 L630.40 140.00 L629.26 139.96 L628.12 139.93 L626.99 139.90 L625.85 139.86 L624.71 139.83 L623.58 139.80 L622.44 139.76 L621.30 139.73 L620.17 139.70 L619.03 139.67 L617.89 139.64 L616.76 139.61 L615.62 139.58 L614.48 139.54 L613.35 139.51 L612.21 139.48 L611.07 139.45 L609.94 139.42 L608.80 139.39 L607.66 139.35 L606.53 139.32 L605.39 139.29 L604.25 139.26 L603.12 139.22 L601.98 139.19 L600.84 139.16 L599.71 139.12 L598.57 139.08 L597.43 139.05 L596.30 139.01 L595.16 138.97 L594.03 138.94 L592.89 138.90 L591.76 138.86 L590.62 138.82 L589.48 138.78 L588.35 138.73 L587.21 138.69 L586.08 138.65 L584.94 138.60 L583.81 138.56 L582.68 138.51 L581.54 138.46 L580.41 138.41 L579.27 138.36 L578.14 138.31 L577.01 138.25 L575.87 138.20 L574.74 138.14 L573.61 138.08 L572.47 138.02 L571.34 137.96 L570.21 137.90 L569.08 137.83 L567.95 137.77 L566.81 137.70 L565.68 137.63 L564.55 137.56 L563.42 137.49 L562.29 137.41 L561.16 137.34 L560.03 137.26 L558.90 137.18 L557.77 137.09 L556.64 137.01 L555.52 136.92 L554.39 136.83 L553.26 136.73 L552.13 136.64 L551.00 136.54 L549.88 136.45 L548.75 136.35 L547.62 136.24 L546.50 136.14 L545.37 136.04 L544.24 135.93 L543.12 135.82 L541.99 135.71 L540.87 135.60 L539.74 135.48 L538.61 135.37 L537.49 135.25 L536.36 135.14 L535.24 135.02 L534.11 134.89 L532.99 134.77 L531.86 134.65 L530.73 134.52 L529.61 134.40 L528.48 134.27 L527.36 134.14 L526.23 134.01 L525.11 133.88 L523.98 133.75 L522.86 133.61 L521.73 133.48 L520.61 133.34 L519.48 133.21 L518.36 133.07 L517.23 132.93 L516.10 132.79 L514.98 132.65 L513.85 132.51 L512.73 132.36 L511.60 132.21 L510.48 132.07 L509.35 131.92 L508.22 131.77 L507.10 131.61 L505.97 131.46 L504.84 131.30 L503.71 131.14 L502.59 130.97 L501.46 130.80 L500.33 130.63 L499.20 130.45 L498.06 130.27 L496.93 130.09 L495.80 129.90 L494.67 129.70 L493.54 129.50 L492.41 129.29 L491.28 129.07 L490.16 128.84 L489.03 128.61 L487.91 128.37 L486.80 128.12 L485.69 127.86 L484.58 127.59 L483.48 127.31 L482.38 127.02 L481.28 126.72 L480.20 126.41 L479.12 126.08 L478.05 125.74 L476.98 125.38 L475.92 125.02 L474.87 124.63 L473.83 124.23 L472.80 123.81 L471.78 123.38 L470.77 122.93 L469.77 122.46 L468.78 121.97 L467.80 121.46 L466.84 120.93 L465.88 120.39 L464.94 119.82 L464.01 119.23 L463.10 118.63 L462.20 118.01 L461.31 117.37 L460.44 116.71 L459.58 116.03 L458.74 115.33 L457.91 114.62 L457.10 113.88 L456.31 113.13 L455.53 112.36 L454.76 111.58 L454.01 110.77 L453.28 109.95 L452.56 109.12 L451.85 108.27 L451.16 107.40 L450.48 106.52 L449.82 105.62 L449.17 104.72 L448.54 103.79 L447.92 102.86 L447.31 101.92 L446.71 100.96 L446.13 100.00 L445.56 99.02 L445.00 98.04 L444.46 97.05 L443.93 96.05 L443.41 95.04 L442.91 94.02 L442.41 93.00 L441.93 91.97 L441.47 90.93 L441.01 89.89 L440.57 88.85 L440.13 87.80 L439.71 86.75 L439.30 85.69 L438.90 84.63 L438.52 83.57 L438.14 82.51 L437.78 81.44 L437.42 80.37 L437.08 79.29 L436.74 78.22 L436.42 77.14 L436.10 76.05 L435.79 74.97 L435.50 73.88 L435.21 72.79 L434.93 71.70 L434.66 70.60 L434.40 69.50 L434.14 68.40 L433.90 67.30 L433.66 66.19 L433.43 65.09 L433.21 63.98 L432.99 62.86 L432.79 61.75 L432.59 60.64 L432.39 59.52 L432.21 58.40 L432.03 57.28 L431.85 56.16 L431.69 55.04 L431.53 53.91 L431.37 52.79 L431.22 51.66 L431.08 50.53 L430.94 49.40 L430.80 48.27 L430.67 47.14 L430.54 46.01 L430.42 44.88 L430.30 43.75 L430.18 42.62 L430.07 41.48 L429.96 40.35 L429.85 39.22 L429.74 38.08 L429.64 36.95 L429.54 35.81 L429.44 34.68 L429.34 33.54 L429.24 32.41 L429.15 31.28 L429.05 30.14 L428.96 29.01 L428.87 27.88 L428.78 26.75 L428.69 25.61 L428.59 24.48 L428.50 23.35 L428.41 22.22 L428.32 21.10 L428.23 19.97 L428.13 18.84 L428.04 17.72 L427.94 16.59 L427.84 15.47 L427.74 14.35 L427.64 13.23 L427.54 12.11 L427.43 11.00 L427.32 9.88 L427.21 8.77Z" fill="#00ffff" clip-path="url(#c2)"/>
<rect x="426.50" y="0.50" width="252.80" height="190.10" fill="none" stroke="#333333" stroke-width="1.00"/>
<line x1="454.45" y1="190.60" x2="454.45" y2="193.60" stroke="#333333" stroke-width="1.00"/>
<text x="454.45" y="208.20" text-anchor="middle" font-size="15.6">0.1</text>
<line x1="485.63" y1="190.60" x2="485.63" y2="193.60" stroke="#333333" stroke-width="1.00"/>
<text x="485.63" y="208.20" text-anchor="middle" font-size="15.6">0.2</text>
<line x1="516.81" y1="190.60" x2="516.81" y2="193.60" stroke="#333333" stroke-width="1.00"/>
<text x="516.81" y="208.20" text-anchor="middle" font-size="15.6">0.3</text>
<line x1="547.99" y1="190.60" x2="547.99" y2="193.60" stroke="#333333" stroke-width="1.00"/>
<text x="547.99" y="208.20" text-anchor="middle" font-size="15.6">0.4</text>
<line x1="579.17" y1="190.60" x2="579.17" y2="193.60" stroke="#333333" stroke-width="1.00"/>
<text x="579.17" y="208.20" text-anchor="middle" font-size="15.6">0.5</text>
<line x1="610.35" y1="190.60" x2="610.35" y2="193.60" stroke="#333333" stroke-width="1.00"/>
<text x="610.35" y="208.20" text-anchor="middle" font-size="15.6">0.6</text>
<line x1="641.53" y1="190.60" x2="641.53" y2="193.60" stroke="#333333" stroke-width="1.00"/>
<text x="641.53" y="208.20" text-anchor="middle" font-size="15.6">0.7</text>
<line x1="672.71" y1="190.60" x2="672.71" y2="193.60" stroke="#333333" stroke-width="1.00"/>
<text x="672.71" y="208.20" text-anchor="middle" font-size="15.6">0.8</text>
<line x1="423.50" y1="173.60" x2="426.50" y2="173.60" stroke="#333333" stroke-width="1.00"/>
<text x="421.10" y="179.50" text-anchor="end" font-size="15.6">−0.1</text>
<line x1="423.50" y1="146.90" x2="426.50" y2="146.90" stroke="#333333" stroke-width="1.00"/>
<text x="421.10" y="152.80" text-anchor="end" font-size="15.6">0.0</text>
<line x1="423.50" y1="120.20" x2="426.50" y2="120.20" stroke="#333333" stroke-width="1.00"/>
<text x="421.10" y="126.10" text-anchor="end" font-size="15.6">0.1</text>
<line x1="423.50" y1="93.50" x2="426.50" y2="93.50" stroke="#333333" stroke-width="1.00"/>
<text x="421.10" y="99.40" text-anchor="end" font-size="15.6">0.2</text>
<line x1="423.50" y1="66.80" x2="426.50" y2="66.80" stroke="#333333" stroke-width="1.00"/>
<text x="421.10" y="72.70" text-anchor="end" font-size="15.6">0.3</text>
<line x1="423.50" y1="40.10" x2="426.50" y2="40.10" stroke="#333333" stroke-width="1.00"/>
<text x="421.10" y="46.00" text-anchor="end" font-size="15.6">0.4</text>
<line x1="423.50" y1="13.40" x2="426.50" y2="13.40" stroke="#333333" stroke-width="1.00"/>
<text x="421.10" y="19.30" text-anchor="end" font-size="15.6">0.5</text>
<text x="552.20" y="228.50" text-anchor="middle" font-size="15.8"><tspan font-style="italic">q</tspan><tspan font-size="11.1" dy="-5.8" dx="0.7">2</tspan><tspan dy="5.8"> [GeV</tspan><tspan font-size="11.1" dy="-5.8">2</tspan><tspan dy="5.8">]</tspan></text>
<text transform="translate(377.4,96.3) rotate(-90)" text-anchor="middle" font-size="15.8"><tspan font-style="italic">A</tspan><tspan font-style="italic" font-size="11.1" dy="2.6">FB</tspan></text>
<line x1="426.00" y1="0.5" x2="679.80" y2="0.5" stroke="#000" stroke-width="1"/>
<rect x="613.80" y="6.30" width="59.30" height="37.90" rx="1.6" fill="#fff" stroke="#cccccc" stroke-width="0.8"/>
<rect x="618.10" y="10.90" width="24.4" height="9.1" fill="#008000"/>
<rect x="618.10" y="27.90" width="24.4" height="9.1" fill="#00ffff"/>
<text x="651.20" y="19.90" font-size="11.6">SM</text>
<text x="651.20" y="36.90" font-size="11.6">NP</text>
<path d="M78.11 378.86 L78.42 377.52 L78.71 376.19 L78.98 374.84 L79.24 373.50 L79.48 372.15 L79.70 370.80 L79.91 369.45 L80.11 368.09 L80.30 366.73 L80.48 365.37 L80.65 364.01 L80.81 362.65 L80.96 361.28 L81.11 359.92 L81.26 358.55 L81.40 357.19 L81.54 355.82 L81.69 354.45 L81.83 353.09 L81.98 351.72 L82.12 350.36 L82.28 348.99 L82.44 347.63 L82.61 346.27 L82.78 344.91 L82.97 343.55 L83.16 342.20 L83.37 340.84 L83.59 339.49 L83.82 338.14 L84.07 336.80 L84.34 335.46 L84.63 334.12 L84.93 332.79 L85.26 331.46 L85.60 330.13 L85.97 328.81 L86.37 327.49 L86.78 326.18 L87.22 324.88 L87.68 323.58 L88.17 322.30 L88.68 321.02 L89.21 319.76 L89.77 318.50 L90.35 317.27 L90.96 316.04 L91.59 314.83 L92.24 313.64 L92.92 312.47 L93.62 311.31 L94.35 310.18 L95.10 309.06 L95.88 307.97 L96.68 306.90 L97.50 305.85 L98.35 304.83 L99.23 303.83 L100.13 302.86 L101.06 301.92 L102.01 301.01 L102.99 300.13 L103.99 299.27 L105.02 298.45 L106.07 297.67 L107.15 296.91 L108.25 296.18 L109.38 295.48 L110.53 294.81 L111.70 294.17 L112.89 293.55 L114.10 292.96 L115.32 292.40 L116.57 291.86 L117.83 291.34 L119.10 290.85 L120.39 290.38 L121.69 289.93 L123.01 289.50 L124.33 289.10 L125.67 288.71 L127.01 288.34 L128.37 287.99 L129.73 287.65 L131.09 287.33 L132.46 287.03 L133.84 286.74 L135.22 286.47 L136.60 286.21 L137.98 285.96 L139.36 285.72 L140.74 285.49 L142.12 285.28 L143.50 285.07 L144.87 284.87 L146.24 284.69 L147.61 284.51 L148.98 284.34 L150.35 284.18 L151.71 284.02 L153.08 283.88 L154.44 283.74 L155.80 283.61 L157.16 283.49 L158.52 283.37 L159.88 283.27 L161.23 283.16 L162.59 283.07 L163.94 282.98 L165.30 282.89 L166.65 282.81 L168.00 282.74 L169.36 282.67 L170.71 282.60 L172.06 282.54 L173.41 282.49 L174.76 282.43 L176.12 282.39 L177.47 282.34 L178.82 282.30 L180.17 282.26 L181.53 282.22 L182.88 282.18 L184.23 282.15 L185.59 282.12 L186.94 282.09 L188.30 282.06 L189.66 282.03 L191.02 282.01 L192.38 281.98 L193.74 281.95 L195.10 281.93 L196.46 281.90 L197.83 281.88 L199.19 281.86 L200.56 281.84 L201.92 281.82 L203.29 281.81 L204.66 281.80 L206.02 281.79 L207.39 281.78 L208.76 281.78 L210.13 281.78 L211.50 281.78 L212.87 281.79 L214.24 281.80 L215.61 281.81 L216.98 281.83 L218.35 281.86 L219.72 281.89 L221.09 281.92 L222.47 281.96 L223.84 282.01 L225.21 282.06 L226.58 282.12 L227.95 282.18 L229.32 282.25 L230.69 282.33 L232.06 282.42 L233.43 282.51 L234.80 282.61 L236.17 282.72 L237.54 282.83 L238.90 282.95 L240.27 283.09 L241.64 283.23 L243.01 283.38 L244.37 283.54 L245.74 283.71 L247.10 283.89 L248.46 284.08 L249.82 284.28 L251.18 284.50 L252.54 284.72 L253.90 284.96 L255.26 285.21 L256.61 285.47 L257.97 285.74 L259.32 286.02 L260.67 286.31 L262.02 286.62 L263.37 286.94 L264.72 287.27 L266.06 287.62 L267.40 287.98 L268.74 288.35 L270.07 288.74 L271.38 289.16 L272.69 289.59 L273.98 290.04 L275.26 290.51 L276.52 291.01 L277.77 291.53 L278.99 292.08 L280.19 292.66 L281.37 293.26 L282.52 293.90 L283.64 294.57 L284.74 295.27 L285.80 296.00 L286.83 296.77 L287.83 297.57 L288.79 298.42 L289.71 299.30 L290.59 300.22 L291.44 301.18 L292.24 302.19 L293.02 303.24 L293.75 304.32 L294.46 305.45 L295.13 306.60 L295.78 307.79 L296.39 309.01 L296.98 310.24 L297.55 311.50 L298.10 312.78 L298.62 314.07 L299.13 315.37 L299.62 316.68 L300.09 317.99 L300.55 319.31 L301.00 320.62 L301.44 321.94 L301.86 323.26 L302.27 324.58 L302.66 325.90 L303.04 327.23 L303.41 328.55 L303.76 329.88 L304.11 331.21 L304.44 332.54 L304.76 333.87 L305.07 335.20 L305.36 336.53 L305.65 337.87 L305.93 339.21 L306.19 340.54 L306.44 341.88 L306.69 343.23 L306.92 344.57 L307.15 345.91 L307.36 347.26 L307.57 348.60 L307.76 349.95 L307.95 351.30 L308.14 352.65 L308.31 354.00 L308.47 355.35 L308.63 356.70 L308.78 358.06 L308.93 359.41 L309.06 360.77 L309.19 362.12 L309.31 363.48 L309.43 364.84 L309.54 366.20 L309.64 367.56 L309.74 368.92 L309.84 370.28 L309.92 371.65 L310.01 373.01 L310.09 374.37 L310.16 375.74 L310.23 377.10 L310.30 378.47 L310.36 379.84 L310.42 381.20 L310.48 382.57 L310.53 383.94 L310.58 385.31 L310.63 386.68 L310.68 388.05 L310.72 389.42 L310.77 390.78 L310.81 392.15 L310.85 393.53 L310.89 394.90 L310.93 396.27 L310.97 397.64 L311.02 399.01 L311.06 400.38 L311.10 401.75 L311.14 403.12 L311.18 404.49 L311.23 405.86 L311.28 407.23 L311.33 408.60 L311.38 409.97 L311.44 411.34 L311.49 412.71 L311.55 414.08 L311.62 415.45 L311.68 416.82 L311.75 418.19 L311.83 419.55 L311.91 420.92 L311.99 422.29 L312.07 423.66 L312.16 425.02 L313.18 424.96 L313.10 423.60 L313.04 422.23 L312.97 420.87 L312.91 419.50 L312.86 418.14 L312.81 416.77 L312.77 415.40 L312.73 414.04 L312.69 412.67 L312.65 411.30 L312.62 409.93 L312.58 408.56 L312.55 407.20 L312.53 405.83 L312.50 404.46 L312.47 403.09 L312.44 401.72 L312.42 400.35 L312.39 398.97 L312.37 397.60 L312.34 396.23 L312.32 394.86 L312.29 393.49 L312.26 392.12 L312.24 390.75 L312.21 389.37 L312.17 388.00 L312.14 386.63 L312.11 385.26 L312.07 383.89 L312.03 382.52 L311.99 381.14 L311.94 379.77 L311.89 378.40 L311.84 377.03 L311.78 375.66 L311.72 374.29 L311.66 372.92 L311.59 371.55 L311.51 370.18 L311.43 368.81 L311.35 367.44 L311.26 366.07 L311.16 364.70 L311.06 363.34 L310.95 361.97 L310.84 360.60 L310.71 359.24 L310.58 357.87 L310.45 356.50 L310.30 355.14 L310.15 353.78 L309.99 352.41 L309.82 351.05 L309.64 349.69 L309.45 348.33 L309.25 346.97 L309.04 345.61 L308.83 344.25 L308.60 342.89 L308.36 341.53 L308.11 340.18 L307.85 338.82 L307.58 337.47 L307.29 336.12 L307.00 334.77 L306.69 333.42 L306.37 332.07 L306.04 330.72 L305.70 329.37 L305.34 328.03 L304.96 326.68 L304.58 325.34 L304.18 324.00 L303.77 322.66 L303.34 321.32 L302.90 319.99 L302.44 318.65 L301.96 317.32 L301.47 315.99 L300.97 314.66 L300.44 313.34 L299.89 312.02 L299.32 310.72 L298.72 309.43 L298.10 308.16 L297.45 306.90 L296.76 305.68 L296.05 304.48 L295.29 303.31 L294.50 302.17 L293.67 301.07 L292.80 300.02 L291.89 299.01 L290.93 298.05 L289.94 297.13 L288.91 296.26 L287.84 295.44 L286.74 294.65 L285.62 293.91 L284.46 293.21 L283.28 292.54 L282.08 291.90 L280.85 291.30 L279.60 290.73 L278.33 290.19 L277.05 289.68 L275.75 289.20 L274.44 288.74 L273.11 288.30 L271.78 287.89 L270.43 287.50 L269.08 287.12 L267.72 286.77 L266.37 286.42 L265.00 286.10 L263.64 285.78 L262.28 285.48 L260.92 285.18 L259.55 284.90 L258.19 284.64 L256.82 284.38 L255.45 284.13 L254.08 283.90 L252.71 283.68 L251.35 283.46 L249.98 283.26 L248.60 283.07 L247.23 282.88 L245.86 282.71 L244.49 282.54 L243.12 282.38 L241.74 282.23 L240.37 282.09 L239.00 281.96 L237.62 281.83 L236.25 281.72 L234.87 281.61 L233.50 281.51 L232.12 281.42 L230.75 281.33 L229.37 281.25 L228.00 281.18 L226.62 281.12 L225.25 281.06 L223.87 281.01 L222.50 280.96 L221.12 280.92 L219.75 280.89 L218.37 280.86 L217.00 280.83 L215.62 280.81 L214.25 280.80 L212.88 280.79 L211.50 280.78 L210.13 280.78 L208.76 280.78 L207.39 280.78 L206.02 280.79 L204.65 280.80 L203.28 280.81 L201.91 280.82 L200.54 280.84 L199.18 280.86 L197.81 280.88 L196.45 280.91 L195.08 280.93 L193.72 280.95 L192.36 280.98 L191.00 281.01 L189.64 281.03 L188.28 281.06 L186.92 281.09 L185.57 281.12 L184.21 281.15 L182.85 281.18 L181.50 281.22 L180.14 281.26 L178.79 281.30 L177.44 281.34 L176.08 281.39 L174.73 281.43 L173.37 281.49 L172.02 281.54 L170.66 281.60 L169.31 281.67 L167.95 281.74 L166.59 281.81 L165.24 281.89 L163.88 281.98 L162.52 282.07 L161.16 282.17 L159.80 282.27 L158.44 282.38 L157.07 282.49 L155.71 282.62 L154.34 282.75 L152.98 282.89 L151.61 283.03 L150.24 283.18 L148.86 283.35 L147.49 283.52 L146.11 283.70 L144.73 283.88 L143.35 284.08 L141.97 284.29 L140.58 284.51 L139.20 284.73 L137.81 284.97 L136.42 285.22 L135.03 285.49 L133.64 285.76 L132.25 286.05 L130.87 286.36 L129.49 286.68 L128.12 287.02 L126.76 287.37 L125.40 287.75 L124.05 288.14 L122.71 288.55 L121.38 288.98 L120.06 289.44 L118.75 289.91 L117.46 290.41 L116.18 290.94 L114.92 291.49 L113.67 292.06 L112.44 292.66 L111.23 293.29 L110.04 293.94 L108.87 294.62 L107.72 295.34 L106.59 296.08 L105.49 296.86 L104.41 297.66 L103.35 298.50 L102.33 299.37 L101.33 300.28 L100.35 301.21 L99.41 302.17 L98.49 303.16 L97.59 304.18 L96.73 305.22 L95.88 306.29 L95.07 307.38 L94.28 308.49 L93.51 309.63 L92.77 310.78 L92.06 311.96 L91.37 313.15 L90.70 314.36 L90.07 315.59 L89.45 316.83 L88.86 318.09 L88.30 319.36 L87.76 320.64 L87.24 321.93 L86.75 323.24 L86.28 324.55 L85.83 325.87 L85.41 327.20 L85.01 328.53 L84.64 329.87 L84.29 331.21 L83.96 332.56 L83.65 333.90 L83.36 335.26 L83.09 336.61 L82.84 337.97 L82.60 339.33 L82.38 340.69 L82.17 342.05 L81.97 343.41 L81.79 344.78 L81.61 346.15 L81.45 347.51 L81.29 348.88 L81.13 350.25 L80.98 351.62 L80.84 352.98 L80.69 354.35 L80.55 355.72 L80.41 357.08 L80.26 358.45 L80.12 359.81 L79.97 361.17 L79.81 362.53 L79.65 363.89 L79.49 365.25 L79.31 366.60 L79.12 367.95 L78.92 369.30 L78.72 370.64 L78.49 371.98 L78.25 373.32 L78.00 374.65 L77.73 375.98 L77.44 377.30 L77.13 378.62Z" fill="#008000" clip-path="url(#c3)"/>
<path d="M78.09 386.09 L78.14 385.09 L78.20 384.04 L78.29 382.95 L78.39 381.82 L78.51 380.67 L78.66 379.50 L78.83 378.31 L79.04 377.12 L79.27 375.94 L79.55 374.76 L79.86 373.61 L80.21 372.47 L80.61 371.37 L81.05 370.31 L81.55 369.29 L82.09 368.33 L82.69 367.43 L83.35 366.60 L84.06 365.83 L84.82 365.14 L85.62 364.51 L86.47 363.96 L87.35 363.47 L88.27 363.06 L89.21 362.72 L90.17 362.44 L91.15 362.24 L92.15 362.11 L93.16 362.05 L94.17 362.05 L95.18 362.13 L96.21 362.26 L97.23 362.46 L98.26 362.70 L99.29 363.00 L100.33 363.34 L101.37 363.73 L102.40 364.15 L103.44 364.61 L104.48 365.10 L105.52 365.61 L106.56 366.15 L107.60 366.70 L108.64 367.27 L109.67 367.84 L110.70 368.43 L111.73 369.02 L112.75 369.60 L113.77 370.18 L114.79 370.75 L115.80 371.32 L116.80 371.88 L117.81 372.44 L118.81 373.00 L119.80 373.54 L120.80 374.09 L121.79 374.63 L122.78 375.16 L123.76 375.69 L124.75 376.22 L125.73 376.74 L126.71 377.26 L127.69 377.77 L128.67 378.29 L129.65 378.80 L130.63 379.30 L131.60 379.80 L132.58 380.30 L133.56 380.80 L134.53 381.30 L135.51 381.79 L136.49 382.28 L137.47 382.77 L138.45 383.26 L139.43 383.74 L140.41 384.22 L141.40 384.71 L142.38 385.19 L143.37 385.67 L144.36 386.14 L145.35 386.62 L146.34 387.09 L147.33 387.56 L148.32 388.03 L149.32 388.50 L150.31 388.97 L151.31 389.43 L152.31 389.89 L153.31 390.35 L154.31 390.81 L155.31 391.27 L156.31 391.73 L157.31 392.18 L158.32 392.63 L159.33 393.08 L160.33 393.53 L161.34 393.98 L162.35 394.42 L163.36 394.86 L164.37 395.30 L165.39 395.74 L166.40 396.18 L167.42 396.61 L168.43 397.05 L169.45 397.48 L170.47 397.91 L171.49 398.34 L172.51 398.76 L173.53 399.18 L174.55 399.61 L175.58 400.03 L176.60 400.44 L177.63 400.86 L178.65 401.27 L179.68 401.69 L180.71 402.10 L181.74 402.50 L182.77 402.91 L183.80 403.31 L184.83 403.72 L185.87 404.12 L186.90 404.51 L187.94 404.91 L188.97 405.30 L190.01 405.70 L191.05 406.09 L192.09 406.47 L193.13 406.86 L194.17 407.24 L195.21 407.62 L196.26 408.00 L197.30 408.38 L198.34 408.76 L199.39 409.13 L200.44 409.50 L201.48 409.87 L202.53 410.24 L203.58 410.60 L204.63 410.97 L205.68 411.33 L206.73 411.69 L207.78 412.04 L208.84 412.40 L209.89 412.75 L210.95 413.10 L212.00 413.45 L213.06 413.79 L214.11 414.13 L215.17 414.48 L216.23 414.81 L217.29 415.15 L218.35 415.49 L219.41 415.82 L220.47 416.15 L221.53 416.48 L222.60 416.80 L223.66 417.13 L224.72 417.45 L225.79 417.77 L226.86 418.08 L227.92 418.40 L228.99 418.71 L230.06 419.02 L231.12 419.33 L232.19 419.63 L233.26 419.94 L234.33 420.24 L235.40 420.53 L236.48 420.83 L237.55 421.12 L238.62 421.42 L239.69 421.70 L240.77 421.99 L241.84 422.28 L242.92 422.56 L243.99 422.84 L245.07 423.11 L246.14 423.39 L247.22 423.66 L248.30 423.93 L249.38 424.20 L250.46 424.46 L251.54 424.73 L252.62 424.99 L253.70 425.25 L254.78 425.50 L255.86 425.76 L256.94 426.01 L258.02 426.25 L259.10 426.50 L260.19 426.74 L261.27 426.98 L262.35 427.22 L263.44 427.46 L264.52 427.69 L265.61 427.92 L266.69 428.15 L267.78 428.38 L268.87 428.60 L269.95 428.82 L271.04 429.04 L272.13 429.26 L273.22 429.47 L274.31 429.68 L275.39 429.89 L276.48 430.09 L277.57 430.30 L278.66 430.50 L279.75 430.69 L280.84 430.89 L281.93 431.08 L283.02 431.27 L284.12 431.46 L285.21 431.64 L286.30 431.83 L287.39 432.01 L288.48 432.18 L289.58 432.36 L290.67 432.53 L291.76 432.70 L292.86 432.86 L293.95 433.03 L295.04 433.19 L296.14 433.35 L297.23 433.50 L298.33 433.65 L299.42 433.80 L300.52 433.95 L301.61 434.10 L302.71 434.24 L303.80 434.38 L304.90 434.51 L305.99 434.65 L307.09 434.78 L308.18 434.91 L309.28 435.03 L310.38 435.16 L311.47 435.28 L312.57 435.39 L312.58 436.53 L311.47 436.42 L310.35 436.31 L309.24 436.20 L308.12 436.08 L307.01 435.96 L305.90 435.84 L304.78 435.72 L303.67 435.59 L302.56 435.46 L301.44 435.33 L300.33 435.20 L299.22 435.07 L298.10 434.93 L296.99 434.79 L295.88 434.65 L294.76 434.50 L293.65 434.36 L292.54 434.21 L291.42 434.06 L290.31 433.90 L289.20 433.75 L288.08 433.59 L286.97 433.43 L285.86 433.27 L284.75 433.10 L283.63 432.93 L282.52 432.76 L281.41 432.59 L280.30 432.42 L279.19 432.24 L278.08 432.06 L276.96 431.88 L275.85 431.69 L274.74 431.51 L273.63 431.32 L272.52 431.13 L271.41 430.94 L270.30 430.74 L269.19 430.54 L268.08 430.34 L266.98 430.14 L265.87 429.93 L264.76 429.73 L263.65 429.52 L262.54 429.30 L261.44 429.09 L260.33 428.87 L259.22 428.65 L258.12 428.43 L257.01 428.21 L255.91 427.98 L254.80 427.75 L253.70 427.52 L252.60 427.29 L251.49 427.05 L250.39 426.81 L249.29 426.57 L248.19 426.33 L247.08 426.09 L245.98 425.84 L244.88 425.59 L243.78 425.34 L242.68 425.08 L241.58 424.82 L240.49 424.57 L239.39 424.30 L238.29 424.04 L237.19 423.77 L236.10 423.50 L235.00 423.23 L233.91 422.96 L232.81 422.68 L231.72 422.40 L230.63 422.12 L229.54 421.84 L228.44 421.55 L227.35 421.27 L226.26 420.98 L225.17 420.68 L224.08 420.39 L223.00 420.09 L221.91 419.79 L220.82 419.49 L219.73 419.18 L218.65 418.88 L217.56 418.57 L216.48 418.26 L215.40 417.94 L214.32 417.62 L213.23 417.31 L212.15 416.98 L211.07 416.66 L209.99 416.33 L208.92 416.01 L207.84 415.67 L206.76 415.34 L205.69 415.01 L204.61 414.67 L203.54 414.33 L202.46 413.98 L201.39 413.64 L200.32 413.29 L199.25 412.94 L198.18 412.59 L197.11 412.23 L196.05 411.87 L194.98 411.51 L193.91 411.15 L192.85 410.79 L191.78 410.42 L190.72 410.05 L189.66 409.68 L188.60 409.30 L187.54 408.93 L186.48 408.55 L185.42 408.17 L184.37 407.78 L183.31 407.40 L182.26 407.01 L181.20 406.62 L180.15 406.22 L179.10 405.83 L178.05 405.43 L177.00 405.03 L175.95 404.62 L174.91 404.22 L173.86 403.81 L172.82 403.40 L171.78 402.98 L170.73 402.57 L169.69 402.15 L168.65 401.73 L167.61 401.31 L166.58 400.88 L165.54 400.45 L164.51 400.02 L163.47 399.59 L162.44 399.16 L161.41 398.72 L160.38 398.28 L159.35 397.84 L158.33 397.39 L157.30 396.94 L156.28 396.49 L155.25 396.04 L154.23 395.59 L153.21 395.13 L152.19 394.67 L151.18 394.21 L150.16 393.74 L149.14 393.28 L148.13 392.81 L147.12 392.34 L146.11 391.86 L145.10 391.38 L144.09 390.91 L143.09 390.42 L142.08 389.94 L141.08 389.45 L140.08 388.96 L139.07 388.47 L138.08 387.98 L137.08 387.48 L136.08 386.98 L135.09 386.48 L134.09 385.98 L133.10 385.47 L132.11 384.96 L131.12 384.44 L130.13 383.92 L129.14 383.40 L128.15 382.87 L127.16 382.33 L126.17 381.79 L125.18 381.25 L124.19 380.70 L123.19 380.15 L122.20 379.59 L121.21 379.02 L120.21 378.45 L119.22 377.86 L118.22 377.28 L117.23 376.68 L116.23 376.08 L115.22 375.47 L114.22 374.85 L113.22 374.23 L112.21 373.60 L111.20 372.96 L110.19 372.32 L109.17 371.68 L108.16 371.05 L107.14 370.43 L106.12 369.82 L105.10 369.24 L104.08 368.68 L103.06 368.15 L102.04 367.65 L101.01 367.19 L99.99 366.77 L98.96 366.39 L97.94 366.07 L96.91 365.80 L95.89 365.59 L94.86 365.44 L93.84 365.36 L92.81 365.35 L91.79 365.41 L90.78 365.56 L89.78 365.79 L88.81 366.11 L87.87 366.52 L86.96 367.01 L86.09 367.59 L85.26 368.24 L84.48 368.96 L83.76 369.75 L83.10 370.61 L82.49 371.53 L81.96 372.51 L81.49 373.54 L81.07 374.62 L80.71 375.74 L80.39 376.89 L80.12 378.06 L79.88 379.26 L79.68 380.48 L79.50 381.70 L79.35 382.92 L79.21 384.14 L79.09 385.35 L78.97 386.55 L78.86 387.72 L78.74 388.86 L78.61 389.97 L78.48 391.04 L78.32 392.05 L78.14 393.02 L77.93 393.93Z" fill="#00ffff" stroke="#00ffff" stroke-width="0.3" clip-path="url(#c3)"/>
<rect x="77.90" y="273.15" width="234.65" height="186.60" fill="none" stroke="#333333" stroke-width="1.00"/>
<line x1="103.60" y1="459.75" x2="103.60" y2="462.75" stroke="#333333" stroke-width="1.00"/>
<text x="103.60" y="477.35" text-anchor="middle" font-size="15.6">0.1</text>
<line x1="132.60" y1="459.75" x2="132.60" y2="462.75" stroke="#333333" stroke-width="1.00"/>
<text x="132.60" y="477.35" text-anchor="middle" font-size="15.6">0.2</text>
<line x1="161.60" y1="459.75" x2="161.60" y2="462.75" stroke="#333333" stroke-width="1.00"/>
<text x="161.60" y="477.35" text-anchor="middle" font-size="15.6">0.3</text>
<line x1="190.60" y1="459.75" x2="190.60" y2="462.75" stroke="#333333" stroke-width="1.00"/>
<text x="190.60" y="477.35" text-anchor="middle" font-size="15.6">0.4</text>
<line x1="219.60" y1="459.75" x2="219.60" y2="462.75" stroke="#333333" stroke-width="1.00"/>
<text x="219.60" y="477.35" text-anchor="middle" font-size="15.6">0.5</text>
<line x1="248.60" y1="459.75" x2="248.60" y2="462.75" stroke="#333333" stroke-width="1.00"/>
<text x="248.60" y="477.35" text-anchor="middle" font-size="15.6">0.6</text>
<line x1="277.60" y1="459.75" x2="277.60" y2="462.75" stroke="#333333" stroke-width="1.00"/>
<text x="277.60" y="477.35" text-anchor="middle" font-size="15.6">0.7</text>
<line x1="306.60" y1="459.75" x2="306.60" y2="462.75" stroke="#333333" stroke-width="1.00"/>
<text x="306.60" y="477.35" text-anchor="middle" font-size="15.6">0.8</text>
<line x1="74.90" y1="458.40" x2="77.90" y2="458.40" stroke="#333333" stroke-width="1.00"/>
<text x="72.50" y="464.30" text-anchor="end" font-size="15.6">−1.25</text>
<line x1="74.90" y1="437.06" x2="77.90" y2="437.06" stroke="#333333" stroke-width="1.00"/>
<text x="72.50" y="442.96" text-anchor="end" font-size="15.6">−1.00</text>
<line x1="74.90" y1="415.72" x2="77.90" y2="415.72" stroke="#333333" stroke-width="1.00"/>
<text x="72.50" y="421.62" text-anchor="end" font-size="15.6">−0.75</text>
<line x1="74.90" y1="394.38" x2="77.90" y2="394.38" stroke="#333333" stroke-width="1.00"/>
<text x="72.50" y="400.28" text-anchor="end" font-size="15.6">−0.50</text>
<line x1="74.90" y1="373.04" x2="77.90" y2="373.04" stroke="#333333" stroke-width="1.00"/>
<text x="72.50" y="378.94" text-anchor="end" font-size="15.6">−0.25</text>
<line x1="74.90" y1="351.70" x2="77.90" y2="351.70" stroke="#333333" stroke-width="1.00"/>
<text x="72.50" y="357.60" text-anchor="end" font-size="15.6">0.00</text>
<line x1="74.90" y1="330.36" x2="77.90" y2="330.36" stroke="#333333" stroke-width="1.00"/>
<text x="72.50" y="336.26" text-anchor="end" font-size="15.6">0.25</text>
<line x1="74.90" y1="309.02" x2="77.90" y2="309.02" stroke="#333333" stroke-width="1.00"/>
<text x="72.50" y="314.92" text-anchor="end" font-size="15.6">0.50</text>
<line x1="74.90" y1="287.68" x2="77.90" y2="287.68" stroke="#333333" stroke-width="1.00"/>
<text x="72.50" y="293.58" text-anchor="end" font-size="15.6">0.75</text>
<text x="195.13" y="496.90" text-anchor="middle" font-size="15.8"><tspan font-style="italic">q</tspan><tspan font-size="11.1" dy="-5.8" dx="0.7">2</tspan><tspan dy="5.8"> [GeV</tspan><tspan font-size="11.1" dy="-5.8">2</tspan><tspan dy="5.8">]</tspan></text>
<text transform="translate(15.4,366.6) rotate(-90)" text-anchor="middle" font-size="15.8"><tspan font-style="italic">A</tspan><tspan font-style="italic" font-size="11.1" dy="2.6">λ</tspan><tspan font-style="italic" font-size="7.9" dy="2">μ</tspan><tspan dy="-4.6" dx="1.6">(</tspan><tspan font-style="italic">q</tspan><tspan font-size="11.1" dy="-5.8">2</tspan><tspan dy="5.8">)</tspan></text>
<rect x="247.50" y="278.70" width="58.50" height="37.40" rx="1.6" fill="#fff" stroke="#cccccc" stroke-width="0.8"/>
<rect x="251.30" y="283.30" width="24.4" height="9.1" fill="#008000"/>
<rect x="251.30" y="300.30" width="24.4" height="9.1" fill="#00ffff"/>
<text x="284.40" y="292.30" font-size="11.6">SM</text>
<text x="284.40" y="309.30" font-size="11.6">NP</text>
<path d="M444.71 290.55 L444.85 291.98 L444.98 293.42 L445.11 294.86 L445.23 296.30 L445.35 297.75 L445.46 299.19 L445.57 300.65 L445.68 302.10 L445.79 303.56 L445.89 305.02 L445.99 306.48 L446.09 307.95 L446.19 309.41 L446.29 310.88 L446.38 312.35 L446.48 313.83 L446.57 315.30 L446.67 316.78 L446.76 318.26 L446.86 319.74 L446.96 321.22 L447.05 322.70 L447.15 324.18 L447.25 325.66 L447.36 327.15 L447.46 328.63 L447.57 330.12 L447.68 331.60 L447.80 333.09 L447.91 334.58 L448.04 336.06 L448.16 337.55 L448.29 339.04 L448.43 340.52 L448.56 342.01 L448.71 343.49 L448.86 344.98 L449.01 346.46 L449.17 347.95 L449.34 349.43 L449.51 350.91 L449.69 352.39 L449.88 353.87 L450.07 355.35 L450.28 356.82 L450.49 358.30 L450.71 359.77 L450.94 361.24 L451.18 362.71 L451.42 364.18 L451.68 365.64 L451.95 367.10 L452.22 368.56 L452.51 370.02 L452.81 371.48 L453.12 372.93 L453.44 374.38 L453.77 375.82 L454.12 377.27 L454.48 378.71 L454.85 380.14 L455.23 381.58 L455.62 383.01 L456.03 384.43 L456.45 385.86 L456.89 387.27 L457.34 388.69 L457.80 390.10 L458.28 391.51 L458.77 392.91 L459.28 394.31 L459.81 395.70 L460.35 397.09 L460.91 398.47 L461.49 399.85 L462.08 401.22 L462.70 402.59 L463.33 403.95 L463.98 405.30 L464.66 406.64 L465.36 407.97 L466.08 409.28 L466.82 410.58 L467.58 411.87 L468.37 413.13 L469.18 414.38 L470.02 415.61 L470.89 416.82 L471.78 418.01 L472.70 419.17 L473.65 420.30 L474.62 421.41 L475.63 422.49 L476.67 423.54 L477.74 424.55 L478.84 425.54 L479.98 426.48 L481.15 427.39 L482.35 428.26 L483.59 429.09 L484.86 429.89 L486.15 430.64 L487.47 431.36 L488.80 432.05 L490.16 432.71 L491.52 433.34 L492.90 433.95 L494.28 434.54 L495.66 435.10 L497.06 435.65 L498.45 436.18 L499.85 436.69 L501.26 437.19 L502.67 437.66 L504.08 438.12 L505.50 438.56 L506.93 438.98 L508.36 439.38 L509.79 439.77 L511.22 440.14 L512.66 440.50 L514.10 440.84 L515.55 441.17 L517.00 441.48 L518.45 441.78 L519.90 442.07 L521.36 442.34 L522.82 442.60 L524.28 442.85 L525.75 443.08 L527.22 443.30 L528.69 443.52 L530.16 443.72 L531.63 443.91 L533.11 444.09 L534.58 444.26 L536.06 444.43 L537.54 444.58 L539.02 444.73 L540.50 444.87 L541.99 445.00 L543.47 445.12 L544.96 445.24 L546.44 445.35 L547.93 445.45 L549.42 445.55 L550.91 445.65 L552.40 445.73 L553.89 445.81 L555.37 445.89 L556.86 445.96 L558.35 446.02 L559.84 446.08 L561.33 446.14 L562.82 446.19 L564.31 446.24 L565.79 446.29 L567.28 446.33 L568.77 446.37 L570.25 446.41 L571.73 446.45 L573.21 446.49 L574.69 446.52 L576.17 446.56 L577.65 446.59 L579.13 446.62 L580.60 446.66 L582.07 446.69 L583.55 446.72 L585.02 446.75 L586.49 446.77 L587.96 446.79 L589.43 446.81 L590.90 446.82 L592.37 446.82 L593.84 446.82 L595.31 446.81 L596.78 446.80 L598.25 446.78 L599.71 446.75 L601.18 446.71 L602.65 446.67 L604.12 446.61 L605.59 446.55 L607.06 446.48 L608.53 446.40 L610.01 446.31 L611.48 446.21 L612.96 446.10 L614.43 445.98 L615.91 445.84 L617.39 445.69 L618.87 445.52 L620.35 445.34 L621.83 445.14 L623.32 444.93 L624.80 444.69 L626.29 444.44 L627.78 444.17 L629.27 443.88 L630.76 443.57 L632.25 443.24 L633.74 442.89 L635.22 442.52 L636.70 442.13 L638.17 441.71 L639.63 441.26 L641.08 440.79 L642.52 440.29 L643.94 439.75 L645.34 439.18 L646.72 438.57 L648.09 437.93 L649.43 437.25 L650.74 436.52 L652.03 435.76 L653.29 434.95 L654.52 434.11 L655.72 433.22 L656.89 432.29 L658.02 431.32 L659.11 430.31 L660.17 429.26 L661.19 428.17 L662.17 427.05 L663.11 425.89 L664.02 424.70 L664.88 423.48 L665.70 422.22 L666.49 420.94 L667.23 419.64 L667.95 418.31 L668.63 416.97 L669.27 415.61 L669.89 414.22 L670.47 412.83 L671.02 411.42 L671.53 410.00 L672.01 408.56 L672.47 407.12 L672.88 405.66 L673.28 404.20 L673.64 402.74 L673.98 401.27 L674.29 399.79 L674.59 398.31 L674.86 396.82 L675.12 395.33 L675.36 393.84 L675.58 392.35 L675.79 390.86 L676.00 389.37 L676.19 387.88 L676.37 386.39 L676.55 384.90 L676.72 383.41 L676.88 381.93 L677.04 380.45 L677.19 378.97 L677.34 377.49 L677.49 376.02 L677.63 374.54 L677.76 373.07 L677.89 371.60 L678.01 370.12 L678.13 368.65 L678.24 367.18 L678.34 365.71 L678.44 364.24 L678.54 362.78 L678.63 361.31 L678.71 359.84 L678.79 358.37 L678.87 356.91 L678.94 355.44 L679.01 353.97 L679.07 352.50 L679.13 351.04 L679.19 349.57 L679.24 348.10 L679.28 346.63 L679.33 345.16 L679.37 343.69 L679.40 342.22 L679.44 340.75 L679.47 339.27 L679.50 337.80 L679.54 336.33 L679.57 334.85 L679.60 333.37 L679.64 331.89 L679.67 330.41 L679.71 328.93 L679.74 327.44 L679.78 325.96 L679.82 324.47 L679.86 322.98 L679.90 321.48 L679.93 319.99 L679.11 319.96 L679.06 321.46 L679.01 322.95 L678.95 324.44 L678.90 325.93 L678.84 327.41 L678.78 328.90 L678.72 330.38 L678.65 331.86 L678.58 333.34 L678.51 334.81 L678.44 336.29 L678.36 337.76 L678.28 339.23 L678.20 340.70 L678.11 342.17 L678.02 343.63 L677.93 345.10 L677.84 346.56 L677.75 348.03 L677.65 349.49 L677.56 350.95 L677.46 352.42 L677.36 353.88 L677.27 355.34 L677.16 356.80 L677.06 358.26 L676.95 359.73 L676.84 361.19 L676.73 362.65 L676.61 364.11 L676.50 365.57 L676.37 367.04 L676.25 368.50 L676.12 369.96 L675.99 371.43 L675.85 372.89 L675.72 374.36 L675.57 375.83 L675.43 377.30 L675.27 378.77 L675.11 380.24 L674.95 381.72 L674.78 383.19 L674.60 384.67 L674.42 386.15 L674.23 387.62 L674.03 389.10 L673.82 390.58 L673.59 392.05 L673.36 393.52 L673.10 394.98 L672.83 396.44 L672.54 397.90 L672.22 399.34 L671.89 400.78 L671.53 402.21 L671.15 403.63 L670.74 405.04 L670.30 406.44 L669.83 407.82 L669.33 409.19 L668.80 410.55 L668.23 411.89 L667.64 413.22 L667.01 414.53 L666.35 415.81 L665.66 417.07 L664.94 418.31 L664.19 419.53 L663.40 420.72 L662.59 421.88 L661.75 423.02 L660.89 424.12 L659.99 425.21 L659.07 426.26 L658.12 427.28 L657.14 428.26 L656.13 429.22 L655.09 430.13 L654.01 431.01 L652.90 431.84 L651.75 432.64 L650.57 433.40 L649.37 434.13 L648.13 434.82 L646.87 435.48 L645.58 436.11 L644.27 436.71 L642.94 437.29 L641.59 437.84 L640.22 438.36 L638.83 438.85 L637.43 439.31 L636.02 439.75 L634.59 440.17 L633.15 440.56 L631.71 440.92 L630.25 441.26 L628.80 441.58 L627.34 441.88 L625.88 442.16 L624.42 442.42 L622.96 442.67 L621.50 442.90 L620.05 443.12 L618.59 443.32 L617.13 443.51 L615.68 443.68 L614.22 443.84 L612.77 443.99 L611.32 444.13 L609.86 444.25 L608.41 444.35 L606.95 444.44 L605.49 444.52 L604.04 444.59 L602.58 444.65 L601.13 444.70 L599.67 444.74 L598.21 444.77 L596.75 444.80 L595.29 444.81 L593.83 444.82 L592.37 444.83 L590.91 444.83 L589.44 444.82 L587.98 444.81 L586.51 444.80 L585.05 444.79 L583.58 444.77 L582.11 444.75 L580.64 444.73 L579.16 444.71 L577.69 444.69 L576.21 444.66 L574.73 444.64 L573.25 444.62 L571.77 444.59 L570.29 444.57 L568.81 444.54 L567.32 444.51 L565.84 444.48 L564.36 444.45 L562.87 444.41 L561.39 444.37 L559.90 444.33 L558.42 444.28 L556.93 444.23 L555.45 444.17 L553.97 444.11 L552.48 444.04 L551.00 443.97 L549.52 443.89 L548.04 443.81 L546.56 443.72 L545.08 443.62 L543.60 443.51 L542.12 443.39 L540.65 443.27 L539.17 443.13 L537.70 442.99 L536.23 442.83 L534.76 442.67 L533.30 442.49 L531.84 442.31 L530.38 442.11 L528.92 441.90 L527.46 441.69 L526.01 441.45 L524.56 441.21 L523.11 440.96 L521.67 440.69 L520.23 440.41 L518.79 440.12 L517.36 439.81 L515.93 439.49 L514.50 439.16 L513.08 438.81 L511.66 438.45 L510.24 438.07 L508.83 437.68 L507.43 437.27 L506.03 436.85 L504.63 436.41 L503.23 435.95 L501.85 435.48 L500.46 435.00 L499.08 434.49 L497.71 433.97 L496.34 433.43 L494.97 432.87 L493.62 432.29 L492.27 431.69 L490.94 431.07 L489.63 430.42 L488.34 429.74 L487.07 429.03 L485.83 428.30 L484.61 427.53 L483.43 426.72 L482.28 425.88 L481.17 425.01 L480.08 424.10 L479.03 423.16 L478.00 422.18 L477.00 421.17 L476.03 420.13 L475.09 419.06 L474.17 417.97 L473.28 416.84 L472.42 415.70 L471.58 414.52 L470.76 413.33 L469.97 412.11 L469.21 410.88 L468.46 409.63 L467.74 408.36 L467.03 407.07 L466.35 405.77 L465.69 404.46 L465.04 403.13 L464.41 401.80 L463.80 400.46 L463.21 399.11 L462.63 397.76 L462.07 396.40 L461.52 395.04 L460.98 393.67 L460.46 392.29 L459.96 390.92 L459.47 389.53 L459.00 388.14 L458.54 386.75 L458.09 385.35 L457.66 383.95 L457.25 382.54 L456.84 381.13 L456.46 379.72 L456.08 378.30 L455.72 376.87 L455.36 375.45 L455.03 374.01 L454.70 372.58 L454.38 371.14 L454.07 369.70 L453.78 368.26 L453.49 366.81 L453.22 365.36 L452.95 363.91 L452.70 362.45 L452.45 361.00 L452.21 359.54 L451.98 358.07 L451.76 356.61 L451.55 355.14 L451.35 353.67 L451.15 352.20 L450.96 350.73 L450.78 349.26 L450.60 347.78 L450.43 346.31 L450.27 344.83 L450.11 343.35 L449.96 341.87 L449.81 340.39 L449.67 338.91 L449.54 337.43 L449.40 335.95 L449.28 334.46 L449.15 332.98 L449.03 331.50 L448.92 330.02 L448.80 328.53 L448.69 327.05 L448.58 325.57 L448.48 324.09 L448.37 322.61 L448.27 321.13 L448.16 319.65 L448.06 318.17 L447.96 316.69 L447.86 315.22 L447.76 313.74 L447.66 312.27 L447.56 310.80 L447.46 309.33 L447.35 307.86 L447.25 306.39 L447.14 304.93 L447.03 303.47 L446.92 302.01 L446.81 300.55 L446.69 299.10 L446.57 297.65 L446.44 296.20 L446.32 294.75 L446.19 293.31 L446.05 291.87 L445.91 290.43Z" fill="#008000" clip-path="url(#c4)"/>
<path d="M444.53 290.47 L444.64 291.94 L444.75 293.41 L444.85 294.87 L444.95 296.34 L445.04 297.81 L445.14 299.29 L445.24 300.76 L445.33 302.23 L445.42 303.71 L445.51 305.19 L445.61 306.67 L445.70 308.15 L445.79 309.63 L445.88 311.11 L445.97 312.59 L446.07 314.07 L446.16 315.56 L446.26 317.04 L446.35 318.52 L446.45 320.01 L446.55 321.49 L446.66 322.98 L446.76 324.47 L446.87 325.95 L446.98 327.44 L447.09 328.92 L447.21 330.41 L447.33 331.90 L447.45 333.38 L447.58 334.87 L447.71 336.35 L447.85 337.84 L447.99 339.32 L448.14 340.80 L448.29 342.29 L448.45 343.77 L448.61 345.25 L448.78 346.73 L448.95 348.21 L449.13 349.69 L449.32 351.17 L449.51 352.64 L449.71 354.12 L449.92 355.59 L450.13 357.06 L450.35 358.54 L450.58 360.01 L450.82 361.47 L451.07 362.94 L451.33 364.41 L451.59 365.87 L451.86 367.33 L452.15 368.79 L452.44 370.25 L452.74 371.71 L453.05 373.16 L453.37 374.61 L453.70 376.06 L454.05 377.51 L454.40 378.96 L454.76 380.40 L455.14 381.84 L455.53 383.28 L455.93 384.71 L456.34 386.14 L456.77 387.57 L457.21 389.00 L457.67 390.42 L458.13 391.84 L458.62 393.26 L459.11 394.67 L459.62 396.08 L460.15 397.49 L460.69 398.89 L461.24 400.29 L461.81 401.69 L462.40 403.08 L463.00 404.46 L463.63 405.84 L464.28 407.20 L464.95 408.56 L465.64 409.90 L466.36 411.23 L467.10 412.54 L467.87 413.83 L468.68 415.10 L469.51 416.35 L470.37 417.58 L471.27 418.78 L472.20 419.95 L473.17 421.10 L474.17 422.21 L475.22 423.29 L476.30 424.33 L477.43 425.34 L478.58 426.31 L479.77 427.24 L480.99 428.14 L482.24 429.00 L483.51 429.82 L484.80 430.61 L486.12 431.36 L487.46 432.07 L488.81 432.75 L490.17 433.39 L491.55 433.99 L492.94 434.57 L494.34 435.10 L495.75 435.61 L497.17 436.09 L498.60 436.54 L500.04 436.96 L501.48 437.36 L502.94 437.73 L504.40 438.08 L505.86 438.40 L507.33 438.71 L508.81 438.99 L510.29 439.26 L511.77 439.51 L513.25 439.75 L514.74 439.97 L516.23 440.18 L517.72 440.37 L519.20 440.56 L520.69 440.73 L522.18 440.90 L523.67 441.06 L525.16 441.21 L526.65 441.35 L528.14 441.49 L529.63 441.61 L531.12 441.73 L532.61 441.83 L534.10 441.93 L535.59 442.02 L537.08 442.10 L538.57 442.16 L540.06 442.22 L541.55 442.27 L543.04 442.32 L544.53 442.35 L546.02 442.37 L547.51 442.38 L549.00 442.38 L550.48 442.37 L551.97 442.35 L553.46 442.32 L554.94 442.27 L556.43 442.21 L557.91 442.14 L559.40 442.06 L560.88 441.96 L562.36 441.85 L563.84 441.73 L565.33 441.59 L566.80 441.44 L568.28 441.28 L569.76 441.10 L571.24 440.92 L572.71 440.72 L574.18 440.51 L575.65 440.29 L577.13 440.06 L578.60 439.82 L580.06 439.56 L581.53 439.30 L583.00 439.03 L584.47 438.74 L585.93 438.45 L587.39 438.15 L588.86 437.83 L590.32 437.51 L591.78 437.18 L593.24 436.84 L594.70 436.49 L596.15 436.13 L597.61 435.76 L599.07 435.38 L600.52 435.00 L601.97 434.61 L603.43 434.21 L604.88 433.80 L606.33 433.38 L607.78 432.95 L609.23 432.50 L610.67 432.04 L612.11 431.56 L613.54 431.07 L614.97 430.56 L616.39 430.02 L617.80 429.46 L619.19 428.88 L620.58 428.27 L621.95 427.63 L623.31 426.96 L624.65 426.26 L625.97 425.53 L627.27 424.77 L628.55 423.99 L629.82 423.17 L631.06 422.33 L632.29 421.46 L633.50 420.57 L634.69 419.65 L635.87 418.71 L637.02 417.75 L638.17 416.78 L639.29 415.78 L640.41 414.77 L641.51 413.74 L642.59 412.69 L643.66 411.63 L644.72 410.55 L645.76 409.46 L646.79 408.35 L647.80 407.22 L648.80 406.08 L649.77 404.92 L650.73 403.74 L651.68 402.55 L652.60 401.35 L653.51 400.14 L654.41 398.91 L655.29 397.68 L656.16 396.44 L657.01 395.19 L657.86 393.94 L658.69 392.67 L659.50 391.40 L660.30 390.12 L661.09 388.83 L661.86 387.53 L662.62 386.23 L663.36 384.91 L664.08 383.59 L664.78 382.26 L665.47 380.93 L666.13 379.59 L666.78 378.24 L667.41 376.88 L668.02 375.52 L668.61 374.14 L669.18 372.77 L669.73 371.38 L670.27 369.99 L670.78 368.59 L671.28 367.19 L671.76 365.78 L672.22 364.36 L672.67 362.94 L673.09 361.51 L673.50 360.08 L673.89 358.64 L674.27 357.20 L674.63 355.75 L674.97 354.30 L675.30 352.85 L675.61 351.39 L675.91 349.93 L676.19 348.46 L676.45 346.99 L676.71 345.52 L676.94 344.05 L677.17 342.57 L677.38 341.09 L677.58 339.61 L677.77 338.12 L677.94 336.64 L678.11 335.15 L678.26 333.66 L678.40 332.17 L678.53 330.67 L678.65 329.18 L678.76 327.69 L678.86 326.19 L678.95 324.70 L679.04 323.20 L679.12 321.71 L679.19 320.21 L679.26 318.72 L679.32 317.22 L679.37 315.73 L679.42 314.23 L679.47 312.74 L679.51 311.25 L679.55 309.76 L679.59 308.27 L679.63 306.79 L679.67 305.30 L679.72 303.82 L679.76 302.34 L679.81 300.86 L679.87 299.39 L679.92 297.92 L679.98 296.45 L680.04 294.99 L680.11 293.52 L680.18 292.07 L679.16 292.01 L679.07 293.47 L678.99 294.93 L678.91 296.40 L678.83 297.87 L678.75 299.34 L678.67 300.81 L678.59 302.29 L678.51 303.77 L678.42 305.25 L678.33 306.73 L678.24 308.21 L678.15 309.70 L678.05 311.18 L677.95 312.67 L677.85 314.15 L677.74 315.64 L677.63 317.13 L677.52 318.61 L677.40 320.10 L677.29 321.58 L677.16 323.07 L677.03 324.55 L676.89 326.04 L676.75 327.52 L676.60 329.00 L676.44 330.47 L676.28 331.95 L676.11 333.42 L675.92 334.90 L675.73 336.36 L675.53 337.83 L675.32 339.29 L675.11 340.75 L674.87 342.21 L674.63 343.66 L674.37 345.11 L674.10 346.56 L673.82 348.00 L673.52 349.44 L673.21 350.87 L672.88 352.30 L672.53 353.72 L672.17 355.13 L671.79 356.55 L671.40 357.95 L670.99 359.35 L670.56 360.75 L670.12 362.14 L669.66 363.52 L669.18 364.89 L668.69 366.26 L668.18 367.63 L667.66 368.98 L667.12 370.33 L666.56 371.67 L665.98 373.01 L665.38 374.34 L664.77 375.65 L664.14 376.97 L663.49 378.27 L662.82 379.56 L662.13 380.85 L661.42 382.12 L660.69 383.39 L659.93 384.64 L659.16 385.89 L658.37 387.13 L657.56 388.35 L656.73 389.58 L655.89 390.79 L655.04 392.01 L654.18 393.21 L653.31 394.42 L652.43 395.61 L651.54 396.80 L650.65 397.98 L649.74 399.14 L648.83 400.30 L647.90 401.45 L646.97 402.58 L646.02 403.70 L645.06 404.80 L644.08 405.89 L643.10 406.96 L642.10 408.02 L641.08 409.06 L640.05 410.08 L639.00 411.08 L637.93 412.06 L636.85 413.02 L635.75 413.95 L634.64 414.86 L633.51 415.76 L632.37 416.63 L631.22 417.47 L630.05 418.30 L628.87 419.11 L627.68 419.90 L626.47 420.67 L625.25 421.42 L624.02 422.14 L622.78 422.85 L621.53 423.54 L620.26 424.20 L618.97 424.85 L617.67 425.47 L616.36 426.06 L615.02 426.63 L613.67 427.19 L612.31 427.72 L610.94 428.24 L609.55 428.73 L608.16 429.22 L606.75 429.68 L605.34 430.14 L603.92 430.58 L602.50 431.02 L601.07 431.45 L599.65 431.87 L598.22 432.28 L596.79 432.69 L595.36 433.08 L593.93 433.47 L592.49 433.85 L591.06 434.22 L589.63 434.58 L588.19 434.93 L586.75 435.28 L585.32 435.61 L583.88 435.93 L582.44 436.25 L581.00 436.55 L579.56 436.84 L578.11 437.12 L576.67 437.39 L575.22 437.64 L573.78 437.89 L572.33 438.12 L570.88 438.34 L569.43 438.55 L567.97 438.74 L566.52 438.93 L565.06 439.10 L563.61 439.25 L562.15 439.40 L560.69 439.53 L559.23 439.65 L557.77 439.76 L556.30 439.86 L554.84 439.94 L553.37 440.01 L551.91 440.08 L550.44 440.13 L548.97 440.17 L547.50 440.20 L546.02 440.21 L544.55 440.22 L543.08 440.21 L541.60 440.19 L540.13 440.16 L538.65 440.11 L537.18 440.06 L535.70 439.99 L534.22 439.91 L532.75 439.82 L531.27 439.72 L529.79 439.61 L528.31 439.49 L526.84 439.36 L525.36 439.22 L523.88 439.07 L522.40 438.92 L520.92 438.75 L519.45 438.57 L517.97 438.39 L516.50 438.19 L515.02 437.99 L513.55 437.77 L512.09 437.54 L510.63 437.29 L509.17 437.03 L507.72 436.75 L506.28 436.45 L504.85 436.13 L503.42 435.79 L502.00 435.42 L500.58 435.04 L499.18 434.63 L497.79 434.19 L496.41 433.72 L495.04 433.23 L493.68 432.71 L492.33 432.15 L491.00 431.57 L489.68 430.95 L488.38 430.29 L487.09 429.60 L485.82 428.88 L484.57 428.12 L483.35 427.33 L482.15 426.51 L480.98 425.65 L479.84 424.76 L478.74 423.83 L477.66 422.87 L476.63 421.87 L475.63 420.84 L474.67 419.78 L473.75 418.69 L472.85 417.56 L471.99 416.41 L471.16 415.22 L470.35 414.02 L469.58 412.79 L468.83 411.53 L468.11 410.26 L467.41 408.97 L466.73 407.66 L466.08 406.33 L465.44 404.99 L464.83 403.65 L464.23 402.29 L463.65 400.92 L463.08 399.54 L462.53 398.17 L461.99 396.78 L461.47 395.40 L460.96 394.01 L460.46 392.62 L459.97 391.22 L459.50 389.82 L459.04 388.42 L458.60 387.01 L458.16 385.60 L457.74 384.19 L457.33 382.77 L456.93 381.35 L456.54 379.93 L456.16 378.51 L455.79 377.08 L455.43 375.65 L455.09 374.22 L454.75 372.78 L454.43 371.34 L454.11 369.90 L453.81 368.46 L453.52 367.01 L453.23 365.56 L452.96 364.11 L452.69 362.66 L452.44 361.20 L452.19 359.74 L451.95 358.28 L451.72 356.82 L451.49 355.36 L451.28 353.90 L451.07 352.43 L450.86 350.96 L450.67 349.49 L450.48 348.02 L450.30 346.55 L450.12 345.08 L449.95 343.60 L449.79 342.13 L449.63 340.65 L449.47 339.17 L449.33 337.69 L449.18 336.21 L449.04 334.73 L448.91 333.25 L448.78 331.77 L448.65 330.29 L448.53 328.81 L448.41 327.33 L448.30 325.84 L448.18 324.36 L448.07 322.88 L447.96 321.40 L447.86 319.91 L447.75 318.43 L447.65 316.95 L447.55 315.46 L447.45 313.98 L447.35 312.50 L447.25 311.02 L447.16 309.54 L447.06 308.06 L446.96 306.58 L446.87 305.10 L446.77 303.62 L446.67 302.15 L446.57 300.67 L446.47 299.20 L446.37 297.72 L446.27 296.25 L446.16 294.78 L446.05 293.31 L445.95 291.84 L445.84 290.38Z" fill="#00ffff" clip-path="url(#c4)"/>
<rect x="445.40" y="272.70" width="234.30" height="182.20" fill="none" stroke="#333333" stroke-width="1.00"/>
<line x1="471.50" y1="454.90" x2="471.50" y2="457.90" stroke="#333333" stroke-width="1.00"/>
<text x="471.50" y="472.50" text-anchor="middle" font-size="15.6">0.1</text>
<line x1="500.33" y1="454.90" x2="500.33" y2="457.90" stroke="#333333" stroke-width="1.00"/>
<text x="500.33" y="472.50" text-anchor="middle" font-size="15.6">0.2</text>
<line x1="529.16" y1="454.90" x2="529.16" y2="457.90" stroke="#333333" stroke-width="1.00"/>
<text x="529.16" y="472.50" text-anchor="middle" font-size="15.6">0.3</text>
<line x1="557.99" y1="454.90" x2="557.99" y2="457.90" stroke="#333333" stroke-width="1.00"/>
<text x="557.99" y="472.50" text-anchor="middle" font-size="15.6">0.4</text>
<line x1="586.82" y1="454.90" x2="586.82" y2="457.90" stroke="#333333" stroke-width="1.00"/>
<text x="586.82" y="472.50" text-anchor="middle" font-size="15.6">0.5</text>
<line x1="615.65" y1="454.90" x2="615.65" y2="457.90" stroke="#333333" stroke-width="1.00"/>
<text x="615.65" y="472.50" text-anchor="middle" font-size="15.6">0.6</text>
<line x1="644.48" y1="454.90" x2="644.48" y2="457.90" stroke="#333333" stroke-width="1.00"/>
<text x="644.48" y="472.50" text-anchor="middle" font-size="15.6">0.7</text>
<line x1="673.31" y1="454.90" x2="673.31" y2="457.90" stroke="#333333" stroke-width="1.00"/>
<text x="673.31" y="472.50" text-anchor="middle" font-size="15.6">0.8</text>
<line x1="442.40" y1="452.53" x2="445.40" y2="452.53" stroke="#333333" stroke-width="1.00"/>
<text x="440.00" y="458.43" text-anchor="end" font-size="15.6">−0.35</text>
<line x1="442.40" y1="430.19" x2="445.40" y2="430.19" stroke="#333333" stroke-width="1.00"/>
<text x="440.00" y="436.09" text-anchor="end" font-size="15.6">−0.30</text>
<line x1="442.40" y1="407.85" x2="445.40" y2="407.85" stroke="#333333" stroke-width="1.00"/>
<text x="440.00" y="413.75" text-anchor="end" font-size="15.6">−0.25</text>
<line x1="442.40" y1="385.51" x2="445.40" y2="385.51" stroke="#333333" stroke-width="1.00"/>
<text x="440.00" y="391.41" text-anchor="end" font-size="15.6">−0.20</text>
<line x1="442.40" y1="363.17" x2="445.40" y2="363.17" stroke="#333333" stroke-width="1.00"/>
<text x="440.00" y="369.07" text-anchor="end" font-size="15.6">−0.15</text>
<line x1="442.40" y1="340.83" x2="445.40" y2="340.83" stroke="#333333" stroke-width="1.00"/>
<text x="440.00" y="346.73" text-anchor="end" font-size="15.6">−0.10</text>
<line x1="442.40" y1="318.49" x2="445.40" y2="318.49" stroke="#333333" stroke-width="1.00"/>
<text x="440.00" y="324.39" text-anchor="end" font-size="15.6">−0.05</text>
<line x1="442.40" y1="296.15" x2="445.40" y2="296.15" stroke="#333333" stroke-width="1.00"/>
<text x="440.00" y="302.05" text-anchor="end" font-size="15.6">0.00</text>
<line x1="442.40" y1="273.81" x2="445.40" y2="273.81" stroke="#333333" stroke-width="1.00"/>
<text x="440.00" y="279.71" text-anchor="end" font-size="15.6">0.05</text>
<text x="561.45" y="492.30" text-anchor="middle" font-size="15.8"><tspan font-style="italic">q</tspan><tspan font-size="11.1" dy="-5.8" dx="0.7">2</tspan><tspan dy="5.8"> [GeV</tspan><tspan font-size="11.1" dy="-5.8">2</tspan><tspan dy="5.8">]</tspan></text>
<text transform="translate(384.6,364.3) rotate(-90)" text-anchor="middle" font-size="15.8"><tspan font-style="italic">A</tspan><tspan font-size="11.1" dy="2.6"><tspan font-style="italic">π</tspan>/3</tspan><tspan dy="-2.6" dx="0.9">(</tspan><tspan font-style="italic">q</tspan><tspan font-size="11.1" dy="-5.8">2</tspan><tspan dy="5.8">)</tspan></text>
<rect x="613.60" y="278.40" width="58.50" height="37.40" rx="1.6" fill="#fff" stroke="#cccccc" stroke-width="0.8"/>
<rect x="617.40" y="283.00" width="24.4" height="9.1" fill="#008000"/>
<rect x="617.40" y="300.00" width="24.4" height="9.1" fill="#00ffff"/>
<text x="650.50" y="292.00" font-size="11.6">SM</text>
<text x="650.50" y="309.00" font-size="11.6">NP</text>
</svg>
</body></html>
